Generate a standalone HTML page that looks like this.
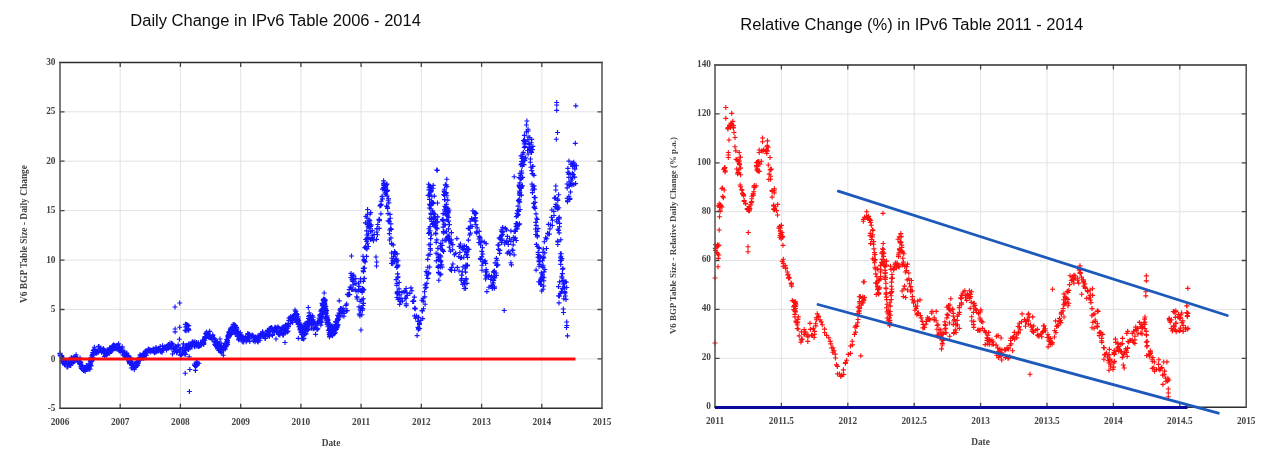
<!DOCTYPE html>
<html><head><meta charset="utf-8"><title>IPv6 Table Change</title>
<style>
html,body{margin:0;padding:0;background:#fff;}
body{width:1270px;height:462px;overflow:hidden;position:relative;}
svg{position:absolute;left:0;top:0;}
.ttl{font-family:"Liberation Sans",Arial,sans-serif;font-size:16px;fill:#0d0d0d;}
.tk{font-family:"Liberation Serif","Times New Roman",serif;font-size:9.3px;fill:#444;font-weight:bold;}
</style></head>
<body>
<svg width="1270" height="462" viewBox="0 0 1270 462">
<text class="ttl" x="130.3" y="25.9" textLength="290.6" lengthAdjust="spacingAndGlyphs">Daily Change in IPv6 Table 2006 - 2014</text>
<text class="ttl" x="740.3" y="29.7" textLength="342.8" lengthAdjust="spacingAndGlyphs">Relative Change (%) in IPv6 Table 2011 - 2014</text>
<g stroke="#e3e3e3" stroke-width="1"><line x1="120.2" y1="62.4" x2="120.2" y2="408.3"/><line x1="180.4" y1="62.4" x2="180.4" y2="408.3"/><line x1="240.7" y1="62.4" x2="240.7" y2="408.3"/><line x1="300.9" y1="62.4" x2="300.9" y2="408.3"/><line x1="361.1" y1="62.4" x2="361.1" y2="408.3"/><line x1="421.3" y1="62.4" x2="421.3" y2="408.3"/><line x1="481.6" y1="62.4" x2="481.6" y2="408.3"/><line x1="541.8" y1="62.4" x2="541.8" y2="408.3"/><line x1="60" y1="358.9" x2="602" y2="358.9"/><line x1="60" y1="309.5" x2="602" y2="309.5"/><line x1="60" y1="260.1" x2="602" y2="260.1"/><line x1="60" y1="210.6" x2="602" y2="210.6"/><line x1="60" y1="161.2" x2="602" y2="161.2"/><line x1="60" y1="111.8" x2="602" y2="111.8"/></g>
<g stroke="#e3e3e3" stroke-width="1"><line x1="781.4" y1="65" x2="781.4" y2="407.2"/><line x1="847.8" y1="65" x2="847.8" y2="407.2"/><line x1="914.2" y1="65" x2="914.2" y2="407.2"/><line x1="980.6" y1="65" x2="980.6" y2="407.2"/><line x1="1047" y1="65" x2="1047" y2="407.2"/><line x1="1113.4" y1="65" x2="1113.4" y2="407.2"/><line x1="1179.8" y1="65" x2="1179.8" y2="407.2"/><line x1="715" y1="358.3" x2="1246.2" y2="358.3"/><line x1="715" y1="309.4" x2="1246.2" y2="309.4"/><line x1="715" y1="260.5" x2="1246.2" y2="260.5"/><line x1="715" y1="211.7" x2="1246.2" y2="211.7"/><line x1="715" y1="162.8" x2="1246.2" y2="162.8"/><line x1="715" y1="113.9" x2="1246.2" y2="113.9"/></g>
<g class="tk">
<g text-anchor="middle"><text x="60" y="425">2006</text><text x="120.2" y="425">2007</text><text x="180.4" y="425">2008</text><text x="240.7" y="425">2009</text><text x="300.9" y="425">2010</text><text x="361.1" y="425">2011</text><text x="421.3" y="425">2012</text><text x="481.6" y="425">2013</text><text x="541.8" y="425">2014</text><text x="602" y="425">2015</text></g>
<g text-anchor="end"><text x="55.5" y="410.9">-5</text><text x="55.5" y="361.5">0</text><text x="55.5" y="312.1">5</text><text x="55.5" y="262.7">10</text><text x="55.5" y="213.2">15</text><text x="55.5" y="163.8">20</text><text x="55.5" y="114.4">25</text><text x="55.5" y="65">30</text></g>
<g text-anchor="middle"><text x="715" y="424">2011</text><text x="781.4" y="424">2011.5</text><text x="847.8" y="424">2012</text><text x="914.2" y="424">2012.5</text><text x="980.6" y="424">2013</text><text x="1047" y="424">2013.5</text><text x="1113.4" y="424">2014</text><text x="1179.8" y="424">2014.5</text><text x="1246.2" y="424">2015</text></g>
<g text-anchor="end"><text x="711" y="409.1">0</text><text x="711" y="360.2">20</text><text x="711" y="311.3">40</text><text x="711" y="262.4">60</text><text x="711" y="213.6">80</text><text x="711" y="164.7">100</text><text x="711" y="115.8">120</text><text x="711" y="66.9">140</text></g>
<text x="331" y="446" text-anchor="middle">Date</text>
<text x="980.5" y="444.5" text-anchor="middle">Date</text>
<text transform="translate(26.8 234) rotate(-90)" text-anchor="middle" style="font-size:9.4px" textLength="138" lengthAdjust="spacingAndGlyphs">V6 BGP Table Size - Daily Change</text>
<text transform="translate(676.3 235.6) rotate(-90)" text-anchor="middle" style="font-size:8.9px" textLength="197" lengthAdjust="spacingAndGlyphs">V6 BGP Table Size - Relative Daily Change (% p.a.)</text>
</g>
<path d="M57.7 354.2h5M60.2 351.7v5M57.6 353.3h5M60.1 350.8v5M57.4 353.5h5M59.9 351v5M57.7 355.5h5M60.2 353v5M58 356h5M60.5 353.5v5M59.2 355.5h5M61.7 353v5M59.4 357.8h5M61.9 355.3v5M58.8 355.7h5M61.3 353.2v5M59.1 355.9h5M61.6 353.4v5M59.6 360.9h5M62.1 358.4v5M59.8 360.6h5M62.3 358.1v5M59.6 357h5M62.1 354.5v5M60 361.9h5M62.5 359.4v5M60.1 361.8h5M62.6 359.3v5M60.3 363.2h5M62.8 360.7v5M61.2 362.3h5M63.7 359.8v5M61.5 363.3h5M64 360.8v5M61.5 360.2h5M64 357.7v5M60.8 360.4h5M63.3 357.9v5M61.6 363.2h5M64.1 360.7v5M62 364.4h5M64.5 361.9v5M61.9 363h5M64.4 360.5v5M62.1 364.4h5M64.6 361.9v5M62.5 364h5M65 361.5v5M62.9 363.7h5M65.4 361.2v5M63.1 361.7h5M65.6 359.2v5M62.9 360.5h5M65.4 358v5M64.1 360.3h5M66.6 357.8v5M64 361.7h5M66.5 359.2v5M64.5 367h5M67 364.5v5M65.4 364.7h5M67.9 362.2v5M65.3 366.7h5M67.8 364.2v5M66.3 364.5h5M68.8 362v5M65.8 363.3h5M68.3 360.8v5M66.5 363.7h5M69 361.2v5M66.6 363.2h5M69.1 360.7v5M67.6 364.2h5M70.1 361.7v5M67.5 365.5h5M70 363v5M68.1 365.5h5M70.6 363v5M68.3 365h5M70.8 362.5v5M67.8 362.3h5M70.3 359.8v5M68.1 363.2h5M70.6 360.7v5M68.7 359.9h5M71.2 357.4v5M68.8 357.4h5M71.3 354.9v5M68.9 358.3h5M71.4 355.8v5M69.3 362.1h5M71.8 359.6v5M69.9 358.7h5M72.4 356.2v5M70.9 357.9h5M73.4 355.4v5M70.1 359.7h5M72.6 357.2v5M70.6 357.8h5M73.1 355.3v5M70.5 361.6h5M73 359.1v5M71 362.1h5M73.5 359.6v5M71.7 359.8h5M74.2 357.3v5M72.2 361.5h5M74.7 359v5M71.8 357.2h5M74.3 354.7v5M72.8 359.3h5M75.3 356.8v5M73.1 356.4h5M75.6 353.9v5M73.4 359.3h5M75.9 356.8v5M73 358h5M75.5 355.5v5M73 356.8h5M75.5 354.3v5M73.6 354.7h5M76.1 352.2v5M74.1 358.7h5M76.6 356.2v5M75 360.7h5M77.5 358.2v5M74.4 358.3h5M76.9 355.8v5M75.1 357.9h5M77.6 355.4v5M75.3 362h5M77.8 359.5v5M75.1 360.9h5M77.6 358.4v5M76.2 361h5M78.7 358.5v5M75.7 361.4h5M78.2 358.9v5M76.8 361.4h5M79.3 358.9v5M76.6 362.2h5M79.1 359.7v5M76.5 362.2h5M79 359.7v5M77.5 358.1h5M80 355.6v5M77.6 361.9h5M80.1 359.4v5M77.2 363.1h5M79.7 360.6v5M77 361.2h5M79.5 358.7v5M77.7 363.9h5M80.2 361.4v5M78.3 364.3h5M80.8 361.8v5M77.7 364.3h5M80.2 361.8v5M78.3 362.2h5M80.8 359.7v5M77.9 362.7h5M80.4 360.2v5M78.5 366.9h5M81 364.4v5M78.6 366h5M81.1 363.5v5M78.9 368.5h5M81.4 366v5M79 367.2h5M81.5 364.7v5M79.6 365.2h5M82.1 362.7v5M79.8 366.7h5M82.3 364.2v5M80 369.3h5M82.5 366.8v5M79.8 369.5h5M82.3 367v5M80.4 369.5h5M82.9 367v5M81.1 370.5h5M83.6 368v5M81.3 370.4h5M83.8 367.9v5M81.8 369.5h5M84.3 367v5M82.2 370.1h5M84.7 367.6v5M82.7 369h5M85.2 366.5v5M82.7 371.3h5M85.2 368.8v5M83.9 369.2h5M86.4 366.7v5M83.8 366.3h5M86.3 363.8v5M83.9 365.5h5M86.4 363v5M85.3 369h5M87.8 366.5v5M85.5 366h5M88 363.5v5M86.4 366.3h5M88.9 363.8v5M85.8 366.5h5M88.3 364v5M86.5 367.9h5M89 365.4v5M86.3 365.7h5M88.8 363.2v5M86.2 366.6h5M88.7 364.1v5M86.6 369.2h5M89.1 366.7v5M86.5 366.5h5M89 364v5M86.3 367.4h5M88.8 364.9v5M87.5 369.1h5M90 366.6v5M86.6 363.8h5M89.1 361.3v5M86.8 367.3h5M89.3 364.8v5M87.8 364.9h5M90.3 362.4v5M88.1 363.7h5M90.6 361.2v5M87.2 365h5M89.7 362.5v5M87.8 361.8h5M90.3 359.3v5M88.2 361.5h5M90.7 359v5M88.6 365.8h5M91.1 363.3v5M88.2 360.7h5M90.7 358.2v5M88.9 361.7h5M91.4 359.2v5M88.6 361h5M91.1 358.5v5M88.2 359.7h5M90.7 357.2v5M88.5 359h5M91 356.5v5M88.6 360h5M91.1 357.5v5M88.8 360.6h5M91.3 358.1v5M88.5 357.7h5M91 355.2v5M88.8 361.1h5M91.3 358.6v5M88.9 359.3h5M91.4 356.8v5M89.4 360.8h5M91.9 358.3v5M89.6 360.4h5M92.1 357.9v5M89.5 359.3h5M92 356.8v5M89.9 359.6h5M92.4 357.1v5M89.4 357h5M91.9 354.5v5M90.3 354.1h5M92.8 351.6v5M89.6 355.3h5M92.1 352.8v5M90.4 357.9h5M92.9 355.4v5M90.1 354.5h5M92.6 352v5M90.4 354.9h5M92.9 352.4v5M91.1 353.4h5M93.6 350.9v5M91.2 354.3h5M93.7 351.8v5M90.2 352.5h5M92.7 350v5M91.1 352.2h5M93.6 349.7v5M90.8 350.5h5M93.3 348v5M91.6 349.6h5M94.1 347.1v5M91.8 347.2h5M94.3 344.7v5M92.4 349.1h5M94.9 346.6v5M92.9 351.7h5M95.4 349.2v5M92.8 352.4h5M95.3 349.9v5M93.5 353.2h5M96 350.7v5M94 352h5M96.5 349.5v5M94.2 353.1h5M96.7 350.6v5M94.2 352.8h5M96.7 350.3v5M95 351.2h5M97.5 348.7v5M95.6 352.4h5M98.1 349.9v5M95.2 350.8h5M97.7 348.3v5M95.9 346.6h5M98.4 344.1v5M96.5 346.4h5M99 343.9v5M97.2 349.1h5M99.7 346.6v5M97.7 348.7h5M100.2 346.2v5M97.9 350.5h5M100.4 348v5M98.6 350.8h5M101.1 348.3v5M98.4 348h5M100.9 345.5v5M99.3 351.3h5M101.8 348.8v5M99.2 352.6h5M101.7 350.1v5M100 350h5M102.5 347.5v5M99.5 350.8h5M102 348.3v5M100.7 348.6h5M103.2 346.1v5M100.2 349.8h5M102.7 347.3v5M101.3 349.2h5M103.8 346.7v5M101.2 353.2h5M103.7 350.7v5M101.8 353h5M104.3 350.5v5M101.8 351.5h5M104.3 349v5M101.9 356.4h5M104.4 353.9v5M103.5 353.5h5M106 351v5M103 353.1h5M105.5 350.6v5M103.8 355.2h5M106.3 352.7v5M104.7 350.5h5M107.2 348v5M104.6 350.1h5M107.1 347.6v5M104.7 354h5M107.2 351.5v5M104.8 354.2h5M107.3 351.7v5M105.7 349.7h5M108.2 347.2v5M105.8 350.9h5M108.3 348.4v5M105.6 350.7h5M108.1 348.2v5M105.9 352.6h5M108.4 350.1v5M107.1 353.3h5M109.6 350.8v5M106.7 349.6h5M109.2 347.1v5M106.8 353h5M109.3 350.5v5M106.7 349.8h5M109.2 347.3v5M107.1 347.8h5M109.6 345.3v5M107.3 351.9h5M109.8 349.4v5M107.6 349.5h5M110.1 347v5M108.4 351.6h5M110.9 349.1v5M108.7 349.7h5M111.2 347.2v5M107.9 349.1h5M110.4 346.6v5M108.9 349.9h5M111.4 347.4v5M108.3 349.2h5M110.8 346.7v5M109 350.4h5M111.5 347.9v5M109.5 347.1h5M112 344.6v5M109.8 350.5h5M112.3 348v5M109.9 346.7h5M112.4 344.2v5M110.1 345.7h5M112.6 343.2v5M110.5 349.1h5M113 346.6v5M111.2 348.8h5M113.7 346.3v5M111.2 344.7h5M113.7 342.2v5M111.8 345.5h5M114.3 343v5M113 345.9h5M115.5 343.4v5M112.8 348.8h5M115.3 346.3v5M113.2 347.7h5M115.7 345.2v5M114.3 345.2h5M116.8 342.7v5M114.4 345.2h5M116.9 342.7v5M114.3 348.9h5M116.8 346.4v5M115 345.5h5M117.5 343v5M115.9 349.4h5M118.4 346.9v5M116.1 343.7h5M118.6 341.2v5M116.4 350.4h5M118.9 347.9v5M117.2 346.5h5M119.7 344v5M117.6 351.5h5M120.1 349v5M117.1 348.1h5M119.6 345.6v5M118.4 350.1h5M120.9 347.6v5M118.6 350.7h5M121.1 348.2v5M118 349.2h5M120.5 346.7v5M119.4 350.8h5M121.9 348.3v5M118.7 350.1h5M121.2 347.6v5M119.6 348.2h5M122.1 345.7v5M119.7 346.8h5M122.2 344.3v5M119.6 350.8h5M122.1 348.3v5M120 351.9h5M122.5 349.4v5M120.7 351.7h5M123.2 349.2v5M120.5 354.7h5M123 352.2v5M121.4 352.1h5M123.9 349.6v5M121.5 352.5h5M124 350v5M121.5 355.3h5M124 352.8v5M121.8 355.4h5M124.3 352.9v5M122.4 352h5M124.9 349.5v5M123.2 355.3h5M125.7 352.8v5M122.8 355.6h5M125.3 353.1v5M123.9 356.8h5M126.4 354.3v5M124.2 353.1h5M126.7 350.6v5M124.2 353.7h5M126.7 351.2v5M124.3 353.6h5M126.8 351.1v5M124.2 356.5h5M126.7 354v5M125.4 355.6h5M127.9 353.1v5M124.4 353.7h5M126.9 351.2v5M125.6 356.4h5M128.1 353.9v5M125.9 358.5h5M128.4 356v5M126.1 356.7h5M128.6 354.2v5M126 359.9h5M128.5 357.4v5M125.7 357.6h5M128.2 355.1v5M125.9 355.9h5M128.4 353.4v5M125.9 358h5M128.4 355.5v5M126.4 361.5h5M128.9 359v5M126.6 361.1h5M129.1 358.6v5M126.8 357.3h5M129.3 354.8v5M126.9 362.3h5M129.4 359.8v5M127.2 363.6h5M129.7 361.1v5M126.9 362.6h5M129.4 360.1v5M128.2 357.8h5M130.7 355.3v5M128.4 360.7h5M130.9 358.2v5M128.8 361.7h5M131.3 359.2v5M128.7 363.7h5M131.2 361.2v5M128.1 362.6h5M130.6 360.1v5M129.1 365.4h5M131.6 362.9v5M128.8 368h5M131.3 365.5v5M129.9 364.8h5M132.4 362.3v5M129.5 364.7h5M132 362.2v5M129.5 365.6h5M132 363.1v5M130.5 367.6h5M133 365.1v5M130.1 367.9h5M132.6 365.4v5M130.9 365.9h5M133.4 363.4v5M131.1 365.1h5M133.6 362.6v5M130.7 365.4h5M133.2 362.9v5M132.2 367.8h5M134.7 365.3v5M131.8 369.4h5M134.3 366.9v5M132.5 363.7h5M135 361.2v5M132.6 367.5h5M135.1 365v5M133.6 365.1h5M136.1 362.6v5M134 366.1h5M136.5 363.6v5M134 362.4h5M136.5 359.9v5M134.6 364.2h5M137.1 361.7v5M134.2 361.9h5M136.7 359.4v5M134.8 361.3h5M137.3 358.8v5M135.4 362h5M137.9 359.5v5M135.4 362.7h5M137.9 360.2v5M134.7 363.2h5M137.2 360.7v5M135.7 362.1h5M138.2 359.6v5M135.2 365.4h5M137.7 362.9v5M136.2 360h5M138.7 357.5v5M135.6 362.2h5M138.1 359.7v5M135.6 363.5h5M138.1 361v5M135.6 362.8h5M138.1 360.3v5M135.9 361.6h5M138.4 359.1v5M136 360.1h5M138.5 357.6v5M136.7 359.1h5M139.2 356.6v5M136.5 357.7h5M139 355.2v5M136.8 360.4h5M139.3 357.9v5M137.4 357.3h5M139.9 354.8v5M137.5 354.8h5M140 352.3v5M137.5 357.7h5M140 355.2v5M138.2 355.2h5M140.7 352.7v5M139.1 355.5h5M141.6 353v5M138.7 355.5h5M141.2 353v5M139.8 356.1h5M142.3 353.6v5M139.8 355.9h5M142.3 353.4v5M140.3 354.4h5M142.8 351.9v5M140.1 356.2h5M142.6 353.7v5M140.1 358.1h5M142.6 355.6v5M141 353.5h5M143.5 351v5M141.3 358.2h5M143.8 355.7v5M141.1 354h5M143.6 351.5v5M142.4 352.9h5M144.9 350.4v5M142.6 351.5h5M145.1 349v5M142.1 355.3h5M144.6 352.8v5M142.9 355.1h5M145.4 352.6v5M143.2 350.9h5M145.7 348.4v5M144 355.2h5M146.5 352.7v5M143.7 351.7h5M146.2 349.2v5M144.8 352.8h5M147.3 350.3v5M144.6 351.5h5M147.1 349v5M144.6 352.8h5M147.1 350.3v5M145.9 350.9h5M148.4 348.4v5M146.1 349.4h5M148.6 346.9v5M145.8 348.9h5M148.3 346.4v5M146.8 351.3h5M149.3 348.8v5M147.2 349.8h5M149.7 347.3v5M147.4 350.4h5M149.9 347.9v5M148 350.3h5M150.5 347.8v5M148.6 350.7h5M151.1 348.2v5M148.3 352.1h5M150.8 349.6v5M148.7 350.5h5M151.2 348v5M149.5 350.2h5M152 347.7v5M150.2 350.9h5M152.7 348.4v5M150.7 349h5M153.2 346.5v5M150.8 351.3h5M153.3 348.8v5M150.8 350.6h5M153.3 348.1v5M151.9 352.8h5M154.4 350.3v5M152.7 352.2h5M155.2 349.7v5M153 350.2h5M155.5 347.7v5M153.4 348.2h5M155.9 345.7v5M153.6 347.4h5M156.1 344.9v5M153.5 347.8h5M156 345.3v5M154.2 351h5M156.7 348.5v5M154.3 351.7h5M156.8 349.2v5M154.5 349.9h5M157 347.4v5M156 348.3h5M158.5 345.8v5M155.5 350.4h5M158 347.9v5M156.3 351.1h5M158.8 348.6v5M157.1 349.3h5M159.6 346.8v5M157.6 348.6h5M160.1 346.1v5M157.7 346.5h5M160.2 344v5M157.7 348.3h5M160.2 345.8v5M158.2 351.7h5M160.7 349.2v5M158.4 351.3h5M160.9 348.8v5M159.6 352.2h5M162.1 349.7v5M160.2 349.2h5M162.7 346.7v5M159.8 350.4h5M162.3 347.9v5M160 345.7h5M162.5 343.2v5M160.9 349.2h5M163.4 346.7v5M160.9 350h5M163.4 347.5v5M161.1 348.9h5M163.6 346.4v5M161.9 346.9h5M164.4 344.4v5M162.6 346.9h5M165.1 344.4v5M162.9 347.2h5M165.4 344.7v5M163 347h5M165.5 344.5v5M163.9 346.2h5M166.4 343.7v5M164 350.1h5M166.5 347.6v5M164.7 346.2h5M167.2 343.7v5M165.1 347.6h5M167.6 345.1v5M165.7 346.7h5M168.2 344.2v5M165.3 345.6h5M167.8 343.1v5M165.9 346.9h5M168.4 344.4v5M166 344.6h5M168.5 342.1v5M166.5 347.1h5M169 344.6v5M167.3 345.3h5M169.8 342.8v5M167.3 347.4h5M169.8 344.9v5M167.5 345.4h5M170 342.9v5M168.7 348.1h5M171.2 345.6v5M169.1 343.2h5M171.6 340.7v5M169.1 345.4h5M171.6 342.9v5M169.2 343.8h5M171.7 341.3v5M170.2 343.9h5M172.7 341.4v5M170.6 347.9h5M173.1 345.4v5M170.6 346h5M173.1 343.5v5M170.8 349.2h5M173.3 346.7v5M171.1 348.6h5M173.6 346.1v5M171.5 351.4h5M174 348.9v5M172.7 346.6h5M175.2 344.1v5M173 350h5M175.5 347.5v5M173.4 347.8h5M175.9 345.3v5M173.5 350.1h5M176 347.6v5M174.1 352.7h5M176.6 350.2v5M174.1 351.1h5M176.6 348.6v5M174.3 351.3h5M176.8 348.8v5M174.5 347.6h5M177 345.1v5M174.8 351.7h5M177.3 349.2v5M175.6 346h5M178.1 343.5v5M175.7 344.9h5M178.2 342.4v5M176.9 350h5M179.4 347.5v5M177.2 351.9h5M179.7 349.4v5M177.9 349.6h5M180.4 347.1v5M178.3 355.4h5M180.8 352.9v5M177.8 354.9h5M180.3 352.4v5M178.2 349.4h5M180.7 346.9v5M179.3 354.3h5M181.8 351.8v5M179.3 353.7h5M181.8 351.2v5M180.3 347.2h5M182.8 344.7v5M180.3 348.7h5M182.8 346.2v5M180.4 347.3h5M182.9 344.8v5M180.8 352h5M183.3 349.5v5M181.8 353.9h5M184.3 351.4v5M181.6 352.4h5M184.1 349.9v5M181.9 350.9h5M184.4 348.4v5M182.1 352.6h5M184.6 350.1v5M183.2 354.3h5M185.7 351.8v5M182.8 346.7h5M185.3 344.2v5M182.9 350.7h5M185.4 348.2v5M184.2 348h5M186.7 345.5v5M184 345.2h5M186.5 342.7v5M185.1 349.1h5M187.6 346.6v5M185.3 345.4h5M187.8 342.9v5M185.6 347.1h5M188.1 344.6v5M186.1 344.7h5M188.6 342.2v5M186.1 349.6h5M188.6 347.1v5M187.1 346.9h5M189.6 344.4v5M186.5 344.5h5M189 342v5M188 344.7h5M190.5 342.2v5M188.3 346h5M190.8 343.5v5M188.1 343.7h5M190.6 341.2v5M188.6 346.8h5M191.1 344.3v5M188.3 343.8h5M190.8 341.3v5M189.3 346.9h5M191.8 344.4v5M189.6 342.3h5M192.1 339.8v5M189.6 344.9h5M192.1 342.4v5M189.5 346.9h5M192 344.4v5M190.6 342.9h5M193.1 340.4v5M190.2 341.7h5M192.7 339.2v5M190.4 342.5h5M192.9 340v5M191.8 342.7h5M194.3 340.2v5M192.1 346.4h5M194.6 343.9v5M192.5 341.8h5M195 339.3v5M192.3 346.7h5M194.8 344.2v5M192.3 343.1h5M194.8 340.6v5M192.5 343.4h5M195 340.9v5M193.7 344.7h5M196.2 342.2v5M193.8 345.2h5M196.3 342.7v5M194.1 342.6h5M196.6 340.1v5M194.6 346.2h5M197.1 343.7v5M194.9 344.9h5M197.4 342.4v5M195.9 342.7h5M198.4 340.2v5M196.2 346.6h5M198.7 344.1v5M196.1 346h5M198.6 343.5v5M196 343.8h5M198.5 341.3v5M197.1 344.7h5M199.6 342.2v5M197.1 346.1h5M199.6 343.6v5M197.4 344.7h5M199.9 342.2v5M197.5 345.7h5M200 343.2v5M198 345h5M200.5 342.5v5M198 343.2h5M200.5 340.7v5M199.2 342.9h5M201.7 340.4v5M198.7 345.2h5M201.2 342.7v5M199.7 342.5h5M202.2 340v5M200.1 341.9h5M202.6 339.4v5M200.4 341.9h5M202.9 339.4v5M200 340h5M202.5 337.5v5M201 343.7h5M203.5 341.2v5M200.3 340.7h5M202.8 338.2v5M200.8 341.2h5M203.3 338.7v5M200.9 341.6h5M203.4 339.1v5M201.6 340.3h5M204.1 337.8v5M201.2 344.4h5M203.7 341.9v5M201.4 342.9h5M203.9 340.4v5M202.4 337.7h5M204.9 335.2v5M202.3 340.2h5M204.8 337.7v5M202.3 336.7h5M204.8 334.2v5M203.2 338.5h5M205.7 336v5M203.1 336.5h5M205.6 334v5M203.2 333.6h5M205.7 331.1v5M203.5 337.9h5M206 335.4v5M203.5 333.8h5M206 331.3v5M203.9 332.1h5M206.4 329.6v5M204.4 333.7h5M206.9 331.2v5M204.9 335h5M207.4 332.5v5M205.4 334.6h5M207.9 332.1v5M206 333h5M208.5 330.5v5M206.4 337.5h5M208.9 335v5M205.9 336.3h5M208.4 333.8v5M206.7 337.3h5M209.2 334.8v5M207.2 331.3h5M209.7 328.8v5M207.4 336.1h5M209.9 333.6v5M207.8 337.4h5M210.3 334.9v5M208.9 337.9h5M211.4 335.4v5M209.2 337.1h5M211.7 334.6v5M209.5 338.7h5M212 336.2v5M209.5 337.1h5M212 334.6v5M209.7 339.7h5M212.2 337.2v5M210.3 335.7h5M212.8 333.2v5M210.2 334.7h5M212.7 332.2v5M211 337.8h5M213.5 335.3v5M211.8 341.8h5M214.3 339.3v5M211.9 338.4h5M214.4 335.9v5M211.8 341.4h5M214.3 338.9v5M212.2 344.2h5M214.7 341.7v5M212.3 341.4h5M214.8 338.9v5M212.1 341.8h5M214.6 339.3v5M212.5 344.2h5M215 341.7v5M212.9 345.3h5M215.4 342.8v5M213.2 342.6h5M215.7 340.1v5M213 341.3h5M215.5 338.8v5M213 344.3h5M215.5 341.8v5M213.7 342.3h5M216.2 339.8v5M213.3 341.8h5M215.8 339.3v5M213.6 343.5h5M216.1 341v5M214.1 346.9h5M216.6 344.4v5M213.7 342.9h5M216.2 340.4v5M214.4 344.9h5M216.9 342.4v5M214.7 341.6h5M217.2 339.1v5M214.1 345.4h5M216.6 342.9v5M215 342.1h5M217.5 339.6v5M215 346.4h5M217.5 343.9v5M215 348.8h5M217.5 346.3v5M215.1 347.4h5M217.6 344.9v5M215.6 348.2h5M218.1 345.7v5M215.2 347.1h5M217.7 344.6v5M216.4 344.5h5M218.9 342v5M216.2 350.5h5M218.7 348v5M216.8 349.9h5M219.3 347.4v5M217 346h5M219.5 343.5v5M217.6 346.3h5M220.1 343.8v5M217.9 351.7h5M220.4 349.2v5M218.5 343h5M221 340.5v5M218.4 348.6h5M220.9 346.1v5M219 345.7h5M221.5 343.2v5M219.2 352.8h5M221.7 350.3v5M219.7 349.4h5M222.2 346.9v5M219.2 348.7h5M221.7 346.2v5M219.6 347.5h5M222.1 345v5M220.8 355.2h5M223.3 352.7v5M221 346.5h5M223.5 344v5M220.6 347.9h5M223.1 345.4v5M221.6 345.8h5M224.1 343.3v5M221.1 350.2h5M223.6 347.7v5M221.9 347.8h5M224.4 345.3v5M222.8 349.1h5M225.3 346.6v5M221.9 348h5M224.4 345.5v5M222.1 346.4h5M224.6 343.9v5M222.4 343.8h5M224.9 341.3v5M222.4 347.2h5M224.9 344.7v5M223 343.6h5M225.5 341.1v5M223.5 345.4h5M226 342.9v5M223.4 343.2h5M225.9 340.7v5M223.8 343.3h5M226.3 340.8v5M223.6 346.6h5M226.1 344.1v5M224.3 341.4h5M226.8 338.9v5M223.6 344.6h5M226.1 342.1v5M224.3 343.7h5M226.8 341.2v5M224 343.4h5M226.5 340.9v5M224.4 344.9h5M226.9 342.4v5M224.7 342.7h5M227.2 340.2v5M224.2 339.5h5M226.7 337v5M225 340.6h5M227.5 338.1v5M225.1 344.5h5M227.6 342v5M225 342.2h5M227.5 339.7v5M225.4 338.1h5M227.9 335.6v5M225 340.2h5M227.5 337.7v5M225.6 335.6h5M228.1 333.1v5M225.9 335.8h5M228.4 333.3v5M225.7 335.4h5M228.2 332.9v5M225.4 336.3h5M227.9 333.8v5M225.8 337.6h5M228.3 335.1v5M226.3 332.6h5M228.8 330.1v5M226.7 333h5M229.2 330.5v5M226.3 336.8h5M228.8 334.3v5M226.2 334.5h5M228.7 332v5M226.6 331.5h5M229.1 329v5M227 333.8h5M229.5 331.3v5M227.7 329.8h5M230.2 327.3v5M227.5 331.9h5M230 329.4v5M227.6 335h5M230.1 332.5v5M227.1 331.9h5M229.6 329.4v5M228.3 329.8h5M230.8 327.3v5M227.8 332.6h5M230.3 330.1v5M228.8 334.3h5M231.3 331.8v5M229 333.9h5M231.5 331.4v5M228.3 329.3h5M230.8 326.8v5M228.3 328.1h5M230.8 325.6v5M229 331.2h5M231.5 328.7v5M228.7 333.2h5M231.2 330.7v5M229 330.3h5M231.5 327.8v5M229.7 332.1h5M232.2 329.6v5M230 329.4h5M232.5 326.9v5M229.6 327.2h5M232.1 324.7v5M230.1 330.7h5M232.6 328.2v5M230.7 324.4h5M233.2 321.9v5M231.7 330.2h5M234.2 327.7v5M231.9 324.8h5M234.4 322.3v5M231.6 328.8h5M234.1 326.3v5M233 325.6h5M235.5 323.1v5M232.8 329.5h5M235.3 327v5M232.6 331.3h5M235.1 328.8v5M233 327.5h5M235.5 325v5M232.8 327.4h5M235.3 324.9v5M233.6 331.7h5M236.1 329.2v5M234.1 327.3h5M236.6 324.8v5M234.2 328.9h5M236.7 326.4v5M233.8 333.8h5M236.3 331.3v5M234.5 329h5M237 326.5v5M234 333h5M236.5 330.5v5M234.6 334.7h5M237.1 332.2v5M234.1 330.6h5M236.6 328.1v5M234.3 334.8h5M236.8 332.3v5M234.8 336.3h5M237.3 333.8v5M235.5 331.9h5M238 329.4v5M235.3 333.4h5M237.8 330.9v5M235 333.6h5M237.5 331.1v5M236.1 339.8h5M238.6 337.3v5M235.8 336.3h5M238.3 333.8v5M235.8 333.7h5M238.3 331.2v5M237 334h5M239.5 331.5v5M236.5 339h5M239 336.5v5M237.3 338.7h5M239.8 336.2v5M236.8 333.6h5M239.3 331.1v5M237.2 337.4h5M239.7 334.9v5M238 332.7h5M240.5 330.2v5M238.8 334.7h5M241.3 332.2v5M238.2 335.7h5M240.7 333.2v5M239.2 336.2h5M241.7 333.7v5M238.7 336h5M241.2 333.5v5M239.3 340.1h5M241.8 337.6v5M240.1 337.7h5M242.6 335.2v5M239.8 341.7h5M242.3 339.2v5M240.4 336.8h5M242.9 334.3v5M241.2 341.9h5M243.7 339.4v5M241.6 338.3h5M244.1 335.8v5M242.1 339.4h5M244.6 336.9v5M241.7 339.6h5M244.2 337.1v5M242.2 338.1h5M244.7 335.6v5M242.8 338.3h5M245.3 335.8v5M243 337.4h5M245.5 334.9v5M243.7 340.5h5M246.2 338v5M243.7 341.8h5M246.2 339.3v5M244.6 339.9h5M247.1 337.4v5M245.2 334.1h5M247.7 331.6v5M245.1 336.1h5M247.6 333.6v5M246 336h5M248.5 333.5v5M245.3 333.5h5M247.8 331v5M245.7 334.4h5M248.2 331.9v5M246.3 334.2h5M248.8 331.7v5M247.1 334.6h5M249.6 332.1v5M247 338.8h5M249.5 336.3v5M247.3 341.4h5M249.8 338.9v5M248.3 335.8h5M250.8 333.3v5M248.6 336.5h5M251.1 334v5M249.6 335.2h5M252.1 332.7v5M249.8 335.1h5M252.3 332.6v5M250.5 335.4h5M253 332.9v5M250.8 337.4h5M253.3 334.9v5M251.3 338.8h5M253.8 336.3v5M250.9 340.7h5M253.4 338.2v5M252.2 337.4h5M254.7 334.9v5M252.4 340.5h5M254.9 338v5M252.5 341.7h5M255 339.2v5M252.6 341h5M255.1 338.5v5M253.1 337.1h5M255.6 334.6v5M253.6 338.1h5M256.1 335.6v5M253.7 338.1h5M256.2 335.6v5M255.1 341.5h5M257.6 339v5M255.4 339.1h5M257.9 336.6v5M255.6 342.1h5M258.1 339.6v5M255.5 336h5M258 333.5v5M256.4 337.6h5M258.9 335.1v5M256.6 335.3h5M259.1 332.8v5M256.8 340.2h5M259.3 337.7v5M257.6 338.1h5M260.1 335.6v5M257.6 340.2h5M260.1 337.7v5M257.9 336.4h5M260.4 333.9v5M258.5 333.4h5M261 330.9v5M258.8 334.7h5M261.3 332.2v5M260 331.8h5M262.5 329.3v5M260.1 335.1h5M262.6 332.6v5M260.3 332.2h5M262.8 329.7v5M260.8 335.3h5M263.3 332.8v5M260.9 334.4h5M263.4 331.9v5M261.7 336.7h5M264.2 334.2v5M262.4 333.7h5M264.9 331.2v5M262.3 335.6h5M264.8 333.1v5M262.5 335.7h5M265 333.2v5M262.6 338.5h5M265.1 336v5M263 338.2h5M265.5 335.7v5M264.2 333.4h5M266.7 330.9v5M264.8 330.3h5M267.3 327.8v5M264.5 334.7h5M267 332.2v5M265.2 331.6h5M267.7 329.1v5M265.4 335.7h5M267.9 333.2v5M266.1 335.1h5M268.6 332.6v5M266.4 333h5M268.9 330.5v5M266.9 336.2h5M269.4 333.7v5M266.8 328.4h5M269.3 325.9v5M267.1 331.6h5M269.6 329.1v5M267.8 330.1h5M270.3 327.6v5M267.6 330.8h5M270.1 328.3v5M267.7 329h5M270.2 326.5v5M268.2 328.1h5M270.7 325.6v5M269 327.5h5M271.5 325v5M268.5 329.1h5M271 326.6v5M269.3 328h5M271.8 325.5v5M270.1 331h5M272.6 328.5v5M270.3 329.1h5M272.8 326.6v5M270.1 334.3h5M272.6 331.8v5M269.9 335.5h5M272.4 333v5M271.3 330.8h5M273.8 328.3v5M271.8 332.1h5M274.3 329.6v5M271.9 329.5h5M274.4 327v5M272.2 327.9h5M274.7 325.4v5M272.7 327.3h5M275.2 324.8v5M272.7 328.7h5M275.2 326.2v5M273.4 327.7h5M275.9 325.2v5M273.7 331.8h5M276.2 329.3v5M274.7 328.5h5M277.2 326v5M274.9 328h5M277.4 325.5v5M275.5 326.8h5M278 324.3v5M274.9 332.2h5M277.4 329.7v5M276.2 333.1h5M278.7 330.6v5M276.1 334.4h5M278.6 331.9v5M276.6 328.3h5M279.1 325.8v5M276.7 331.4h5M279.2 328.9v5M277.3 332.5h5M279.8 330v5M277.3 335.1h5M279.8 332.6v5M278.1 330h5M280.6 327.5v5M278.5 332.4h5M281 329.9v5M279.3 332.5h5M281.8 330v5M279.6 327.4h5M282.1 324.9v5M280 328.4h5M282.5 325.9v5M280.3 335h5M282.8 332.5v5M281.1 328.8h5M283.6 326.3v5M280.7 327h5M283.2 324.5v5M281.5 331.7h5M284 329.2v5M281 334.9h5M283.5 332.4v5M282.1 332.9h5M284.6 330.4v5M281.8 329h5M284.3 326.5v5M282.5 326.4h5M285 323.9v5M282.5 327.8h5M285 325.3v5M283 324.9h5M285.5 322.4v5M283.3 331.8h5M285.8 329.3v5M283.9 325h5M286.4 322.5v5M284.2 330.8h5M286.7 328.3v5M284.1 330.7h5M286.6 328.2v5M284.8 332h5M287.3 329.5v5M284.7 326.5h5M287.2 324v5M285.2 326.4h5M287.7 323.9v5M284.7 328.4h5M287.2 325.9v5M284.9 325.5h5M287.4 323v5M285.6 331.2h5M288.1 328.7v5M285.7 323.4h5M288.2 320.9v5M285.6 324.2h5M288.1 321.7v5M286 326.6h5M288.5 324.1v5M286.3 320.3h5M288.8 317.8v5M286.7 317.9h5M289.2 315.4v5M286.6 317.9h5M289.1 315.4v5M286.9 318h5M289.4 315.5v5M288 319h5M290.5 316.5v5M288.2 316.6h5M290.7 314.1v5M287.8 318.5h5M290.3 316v5M288.1 323.3h5M290.6 320.8v5M288.9 319.7h5M291.4 317.2v5M289.1 318.5h5M291.6 316v5M289.4 319.6h5M291.9 317.1v5M289 318.5h5M291.5 316v5M289.5 320.8h5M292 318.3v5M290.2 322.5h5M292.7 320v5M290.1 320.5h5M292.6 318v5M291 316.2h5M293.5 313.7v5M290.3 317.5h5M292.8 315v5M291.1 319h5M293.6 316.5v5M291.1 315.6h5M293.6 313.1v5M291.9 315.6h5M294.4 313.1v5M292.4 315.8h5M294.9 313.3v5M292.6 319.5h5M295.1 317v5M291.9 314.3h5M294.4 311.8v5M292.6 318.4h5M295.1 315.9v5M293.3 315.9h5M295.8 313.4v5M293.1 314.1h5M295.6 311.6v5M293 317.5h5M295.5 315v5M293.8 320.1h5M296.3 317.6v5M293.3 311.4h5M295.8 308.9v5M293.7 314.8h5M296.2 312.3v5M294.1 313.6h5M296.6 311.1v5M294.1 315h5M296.6 312.5v5M294.1 319.7h5M296.6 317.2v5M293.7 319.6h5M296.2 317.1v5M294.2 321.1h5M296.7 318.6v5M294.7 314.5h5M297.2 312v5M294.2 314.8h5M296.7 312.3v5M295.3 321.5h5M297.8 319v5M295.2 322.5h5M297.7 320v5M295.4 318.6h5M297.9 316.1v5M295.7 316.9h5M298.2 314.4v5M295.5 319.5h5M298 317v5M295.6 322.8h5M298.1 320.3v5M295.8 320.4h5M298.3 317.9v5M296.2 320.8h5M298.7 318.3v5M295.3 318.5h5M297.8 316v5M295.6 324.3h5M298.1 321.8v5M296.2 323.4h5M298.7 320.9v5M295.7 323.9h5M298.2 321.4v5M296 322.7h5M298.5 320.2v5M296.7 322.8h5M299.2 320.3v5M296.3 326.7h5M298.8 324.2v5M297.3 325.7h5M299.8 323.2v5M297.3 324.7h5M299.8 322.2v5M296.8 323.2h5M299.3 320.7v5M297.5 330h5M300 327.5v5M297.4 324.4h5M299.9 321.9v5M297.8 327.6h5M300.3 325.1v5M297.4 324.8h5M299.9 322.3v5M297.4 324.7h5M299.9 322.2v5M297.8 326.5h5M300.3 324v5M297.9 326.1h5M300.4 323.6v5M297.6 328.9h5M300.1 326.4v5M298.5 326.1h5M301 323.6v5M299 327.3h5M301.5 324.8v5M298.5 332.5h5M301 330v5M298.7 331.5h5M301.2 329v5M299 328.1h5M301.5 325.6v5M299.1 334.4h5M301.6 331.9v5M298.6 331.4h5M301.1 328.9v5M299.6 329.9h5M302.1 327.4v5M299.6 332.9h5M302.1 330.4v5M299.3 338.6h5M301.8 336.1v5M300.2 338.4h5M302.7 335.9v5M300.5 334.4h5M303 331.9v5M300.4 334.5h5M302.9 332v5M300.3 335h5M302.8 332.5v5M301 331.9h5M303.5 329.4v5M301.4 338.4h5M303.9 335.9v5M301.1 338.9h5M303.6 336.4v5M301.3 330.6h5M303.8 328.1v5M300.9 329h5M303.4 326.5v5M301 331.8h5M303.5 329.3v5M301.2 327h5M303.7 324.5v5M302.1 334.4h5M304.6 331.9v5M301.8 334h5M304.3 331.5v5M302 327.4h5M304.5 324.9v5M302 328.4h5M304.5 325.9v5M302.7 330.6h5M305.2 328.1v5M302.3 324.8h5M304.8 322.3v5M302.1 328.9h5M304.6 326.4v5M302.6 323.4h5M305.1 320.9v5M303.2 333.4h5M305.7 330.9v5M303 333.5h5M305.5 331v5M303.2 333.5h5M305.7 331v5M303.3 329.5h5M305.8 327v5M303.5 333.8h5M306 331.3v5M303.9 326.2h5M306.4 323.7v5M303.8 323.1h5M306.3 320.6v5M303.9 328h5M306.4 325.5v5M303.7 327.5h5M306.2 325v5M303.9 329.4h5M306.4 326.9v5M304.6 324.4h5M307.1 321.9v5M304.7 329.7h5M307.2 327.2v5M304.4 324.1h5M306.9 321.6v5M304.6 325.2h5M307.1 322.7v5M304.2 324.4h5M306.7 321.9v5M304.3 327.3h5M306.8 324.8v5M304.9 324.8h5M307.4 322.3v5M305.3 330.1h5M307.8 327.6v5M305.8 329.6h5M308.3 327.1v5M305.7 328.1h5M308.2 325.6v5M306 322h5M308.5 319.5v5M305.2 323.2h5M307.7 320.7v5M305.4 326.5h5M307.9 324v5M306 318.4h5M308.5 315.9v5M306.3 316.5h5M308.8 314v5M306.3 318.3h5M308.8 315.8v5M306.8 323.1h5M309.3 320.6v5M306.7 322.5h5M309.2 320v5M306.8 315.6h5M309.3 313.1v5M306.5 321h5M309 318.5v5M307.2 320.4h5M309.7 317.9v5M306.7 312.8h5M309.2 310.3v5M306.9 319.5h5M309.4 317v5M307.3 324.8h5M309.8 322.3v5M308.3 316.6h5M310.8 314.1v5M307.5 322.2h5M310 319.7v5M308 316.3h5M310.5 313.8v5M308.8 321.6h5M311.3 319.1v5M309.3 319.4h5M311.8 316.9v5M309.4 321h5M311.9 318.5v5M309.1 328.2h5M311.6 325.7v5M310 315.7h5M312.5 313.2v5M309.4 325.1h5M311.9 322.6v5M309.9 323.6h5M312.4 321.1v5M310.7 319.8h5M313.2 317.3v5M310.7 319.7h5M313.2 317.2v5M310.6 317.2h5M313.1 314.7v5M310.7 328.7h5M313.2 326.2v5M311.5 321.7h5M314 319.2v5M311.6 328.3h5M314.1 325.8v5M311.9 322.9h5M314.4 320.4v5M313 324.1h5M315.5 321.6v5M312.9 324.9h5M315.4 322.4v5M313 327.7h5M315.5 325.2v5M313.3 327.3h5M315.8 324.8v5M313.1 334.3h5M315.6 331.8v5M314.4 328.2h5M316.9 325.7v5M314.5 329.6h5M317 327.1v5M315.1 323.6h5M317.6 321.1v5M315.3 328.9h5M317.8 326.4v5M315.7 321.4h5M318.2 318.9v5M315.6 323.2h5M318.1 320.7v5M315.6 323.2h5M318.1 320.7v5M317 320.1h5M319.5 317.6v5M316.5 321.3h5M319 318.8v5M316.7 318.1h5M319.2 315.6v5M317.4 315.3h5M319.9 312.8v5M317.3 320.2h5M319.8 317.7v5M317.4 314.7h5M319.9 312.2v5M317.8 318h5M320.3 315.5v5M318.3 325.1h5M320.8 322.6v5M317.5 321.1h5M320 318.6v5M317.7 320.3h5M320.2 317.8v5M318.4 322.3h5M320.9 319.8v5M318.5 314h5M321 311.5v5M317.6 316.1h5M320.1 313.6v5M318.4 314.6h5M320.9 312.1v5M317.9 315h5M320.4 312.5v5M318.5 319h5M321 316.5v5M319 314.3h5M321.5 311.8v5M318.8 319h5M321.3 316.5v5M318.1 321.2h5M320.6 318.7v5M319.1 313.5h5M321.6 311v5M318.3 318.1h5M320.8 315.6v5M318.9 314.5h5M321.4 312v5M318.6 315h5M321.1 312.5v5M318.3 311.1h5M320.8 308.6v5M319 316.8h5M321.5 314.3v5M319 316.2h5M321.5 313.7v5M319.2 309.8h5M321.7 307.3v5M319.3 322h5M321.8 319.5v5M318.7 316.4h5M321.2 313.9v5M319.6 310.4h5M322.1 307.9v5M319.3 309.4h5M321.8 306.9v5M319.5 313.5h5M322 311v5M319.3 314.2h5M321.8 311.7v5M319.8 314.6h5M322.3 312.1v5M319.4 314.4h5M321.9 311.9v5M319.7 314h5M322.2 311.5v5M320.3 308.9h5M322.8 306.4v5M319.8 305.3h5M322.3 302.8v5M319.8 311.5h5M322.3 309v5M320.3 314.1h5M322.8 311.6v5M319.6 303.4h5M322.1 300.9v5M320.2 304.5h5M322.7 302v5M320.1 305.1h5M322.6 302.6v5M320.6 304.3h5M323.1 301.8v5M319.9 311h5M322.4 308.5v5M321.1 309.1h5M323.6 306.6v5M320.4 306h5M322.9 303.5v5M320.5 308.3h5M323 305.8v5M321 310.6h5M323.5 308.1v5M320.7 300.4h5M323.2 297.9v5M321 309h5M323.5 306.5v5M321.6 302.6h5M324.1 300.1v5M320.8 304.1h5M323.3 301.6v5M320.9 300.2h5M323.4 297.7v5M321.4 299.2h5M323.9 296.7v5M321 299.6h5M323.5 297.1v5M321.9 301.7h5M324.4 299.2v5M321.8 304.1h5M324.3 301.6v5M321.4 303.2h5M323.9 300.7v5M321.3 299.7h5M323.8 297.2v5M321.7 301.9h5M324.2 299.4v5M321.5 301.4h5M324 298.9v5M322.2 304.7h5M324.7 302.2v5M322.4 305h5M324.9 302.5v5M321.4 306.7h5M323.9 304.2v5M321.5 298.9h5M324 296.4v5M322.4 306.8h5M324.9 304.3v5M322.4 299.7h5M324.9 297.2v5M322.7 300.1h5M325.2 297.6v5M322.9 306.4h5M325.4 303.9v5M322.7 300.5h5M325.2 298v5M322.4 308h5M324.9 305.5v5M322 303.3h5M324.5 300.8v5M322.3 301.8h5M324.8 299.3v5M322.6 310.3h5M325.1 307.8v5M322.2 303.9h5M324.7 301.4v5M323 309.4h5M325.5 306.9v5M322.6 308.2h5M325.1 305.7v5M322.6 308.6h5M325.1 306.1v5M323.3 306.4h5M325.8 303.9v5M322.5 311.6h5M325 309.1v5M322.4 306.6h5M324.9 304.1v5M323.1 310.4h5M325.6 307.9v5M323.3 308.9h5M325.8 306.4v5M323.2 312.6h5M325.7 310.1v5M323.7 313.3h5M326.2 310.8v5M323.1 314h5M325.6 311.5v5M323.2 311.6h5M325.7 309.1v5M323 311.7h5M325.5 309.2v5M323.6 320.1h5M326.1 317.6v5M323.6 317.4h5M326.1 314.9v5M323.2 312.7h5M325.7 310.2v5M324 310.6h5M326.5 308.1v5M323.9 320.2h5M326.4 317.7v5M323.8 313.2h5M326.3 310.7v5M323.2 313.5h5M325.7 311v5M323.9 317.8h5M326.4 315.3v5M323.6 316.7h5M326.1 314.2v5M323.8 317.4h5M326.3 314.9v5M324.1 318.5h5M326.6 316v5M323.9 317.9h5M326.4 315.4v5M323.8 318.3h5M326.3 315.8v5M324.7 318.5h5M327.2 316v5M324.3 317.4h5M326.8 314.9v5M324 317.7h5M326.5 315.2v5M324.5 322.2h5M327 319.7v5M324.3 318.7h5M326.8 316.2v5M324.7 315.7h5M327.2 313.2v5M325.3 320.4h5M327.8 317.9v5M324.8 324.6h5M327.3 322.1v5M324.6 323h5M327.1 320.5v5M324.7 317.2h5M327.2 314.7v5M325.3 319.6h5M327.8 317.1v5M325.2 320.8h5M327.7 318.3v5M325.4 326.7h5M327.9 324.2v5M325.9 322.5h5M328.4 320v5M325.5 320.1h5M328 317.6v5M325.6 324.2h5M328.1 321.7v5M325.3 323.2h5M327.8 320.7v5M325.4 322.7h5M327.9 320.2v5M325.8 323.2h5M328.3 320.7v5M326.6 325.4h5M329.1 322.9v5M326.7 324h5M329.2 321.5v5M326.7 325.7h5M329.2 323.2v5M325.9 330.3h5M328.4 327.8v5M326.9 329.4h5M329.4 326.9v5M326.9 328.7h5M329.4 326.2v5M326.7 334.2h5M329.2 331.7v5M326.6 332.7h5M329.1 330.2v5M327 336.9h5M329.5 334.4v5M326.8 334.4h5M329.3 331.9v5M327.5 335.6h5M330 333.1v5M327.9 333.3h5M330.4 330.8v5M327.7 329h5M330.2 326.5v5M327.8 333.1h5M330.3 330.6v5M328 333.1h5M330.5 330.6v5M328.6 333.1h5M331.1 330.6v5M328.2 334.5h5M330.7 332v5M328.5 328.5h5M331 326v5M328.2 335.1h5M330.7 332.6v5M329.1 328.5h5M331.6 326v5M329.2 326.7h5M331.7 324.2v5M329.3 333.1h5M331.8 330.6v5M328.7 334.2h5M331.2 331.7v5M329.5 333.3h5M332 330.8v5M330 335.7h5M332.5 333.2v5M329.8 327.4h5M332.3 324.9v5M329.7 325.9h5M332.2 323.4v5M329.9 328.2h5M332.4 325.7v5M330.4 333.8h5M332.9 331.3v5M330.3 329.5h5M332.8 327v5M331.2 334.1h5M333.7 331.6v5M330.4 328.6h5M332.9 326.1v5M331.1 331.2h5M333.6 328.7v5M331.2 330.8h5M333.7 328.3v5M332 333.5h5M334.5 331v5M331.5 331.3h5M334 328.8v5M332 330.5h5M334.5 328v5M332.5 328.2h5M335 325.7v5M332.7 327.5h5M335.2 325v5M333 329.8h5M335.5 327.3v5M332.1 328h5M334.6 325.5v5M332.2 327.5h5M334.7 325v5M333 332.7h5M335.5 330.2v5M333 324.3h5M335.5 321.8v5M333.3 329.6h5M335.8 327.1v5M332.9 328.1h5M335.4 325.6v5M333.8 329.3h5M336.3 326.8v5M333 321.7h5M335.5 319.2v5M333.5 328.1h5M336 325.6v5M334.2 326.7h5M336.7 324.2v5M333.3 326.6h5M335.8 324.1v5M334.3 327.4h5M336.8 324.9v5M334.1 322.5h5M336.6 320v5M333.7 322.5h5M336.2 320v5M334.7 327.7h5M337.2 325.2v5M335 320.4h5M337.5 317.9v5M334.4 321.8h5M336.9 319.3v5M334.7 324.3h5M337.2 321.8v5M335 318.9h5M337.5 316.4v5M334.4 321.6h5M336.9 319.1v5M335.5 324.9h5M338 322.4v5M335.1 326h5M337.6 323.5v5M335.5 319h5M338 316.5v5M334.8 320.3h5M337.3 317.8v5M335.6 319.6h5M338.1 317.1v5M335.1 319.7h5M337.6 317.2v5M336.1 316.4h5M338.6 313.9v5M335.2 315.3h5M337.7 312.8v5M335.9 317.7h5M338.4 315.2v5M335.9 319.7h5M338.4 317.2v5M336.4 313h5M338.9 310.5v5M337.4 315.8h5M339.9 313.3v5M337.4 310.1h5M339.9 307.6v5M338 308.6h5M340.5 306.1v5M337.4 313h5M339.9 310.5v5M338.4 312.2h5M340.9 309.7v5M338.4 308.5h5M340.9 306v5M338.5 310.8h5M341 308.3v5M339 308.9h5M341.5 306.4v5M339.6 315.7h5M342.1 313.2v5M340.6 308.3h5M343.1 305.8v5M340.7 310.5h5M343.2 308v5M340.7 311.5h5M343.2 309v5M341.4 316.2h5M343.9 313.7v5M341.7 313.3h5M344.2 310.8v5M343.7 310.8h5M346.2 308.3v5M341.6 310.3h5M344.1 307.8v5M344.7 310.6h5M347.2 308.1v5M343.5 305.3h5M346 302.8v5M344.2 304h5M346.7 301.5v5M345.7 295h5M348.2 292.5v5M344.9 294.4h5M347.4 291.9v5M347.2 294.6h5M349.7 292.1v5M346.1 294.4h5M348.6 291.9v5M350.7 284.9h5M353.2 282.4v5M351.4 279.5h5M353.9 277v5M353.5 291h5M356 288.5v5M352.6 289.6h5M355.1 287.1v5M354.2 296.7h5M356.7 294.2v5M355.6 291.3h5M358.1 288.8v5M354.7 299h5M357.2 296.5v5M354.6 297.1h5M357.1 294.6v5M357.6 301.3h5M360.1 298.8v5M356.5 306.9h5M359 304.4v5M357.8 309.2h5M360.3 306.7v5M357.9 310.7h5M360.4 308.2v5M356.7 314.1h5M359.2 311.6v5M357.4 315.9h5M359.9 313.4v5M359.4 314.7h5M361.9 312.2v5M360.2 308.6h5M362.7 306.1v5M360 310.2h5M362.5 307.7v5M358.9 307.5h5M361.4 305v5M360.4 305.5h5M362.9 303v5M359.5 299.9h5M362 297.4v5M361 303.4h5M363.5 300.9v5M360.8 298.7h5M363.3 296.2v5M359.7 292.3h5M362.2 289.8v5M361.3 289.9h5M363.8 287.4v5M359.8 291.1h5M362.3 288.6v5M360.9 289.5h5M363.4 287v5M360.1 288.4h5M362.6 285.9v5M361.6 278.6h5M364.1 276.1v5M361.8 278.3h5M364.3 275.8v5M360.8 281.3h5M363.3 278.8v5M362 268.1h5M364.5 265.6v5M361 271.6h5M363.5 269.1v5M360.8 268.3h5M363.3 265.8v5M360.7 270.8h5M363.2 268.3v5M362.1 260.9h5M364.6 258.4v5M362.7 261.9h5M365.2 259.4v5M360.5 256.2h5M363 253.7v5M361.5 260.7h5M364 258.2v5M361.6 259.6h5M364.1 257.1v5M364 256.4h5M366.5 253.9v5M364.5 248.9h5M367 246.4v5M362.3 247.6h5M364.8 245.1v5M363.6 248.3h5M366.1 245.8v5M365.2 237.3h5M367.7 234.8v5M363.2 239.5h5M365.7 237v5M364.4 235h5M366.9 232.5v5M364.1 239.3h5M366.6 236.8v5M365.3 237.9h5M367.8 235.4v5M364.8 224.5h5M367.3 222v5M365.8 233.7h5M368.3 231.2v5M365.6 226.8h5M368.1 224.3v5M365.7 224.7h5M368.2 222.2v5M364.5 218.1h5M367 215.6v5M366.3 221.1h5M368.8 218.6v5M367.6 214h5M370.1 211.5v5M365 214.3h5M367.5 211.8v5M368.2 212.5h5M370.7 210v5M367.4 220.7h5M369.9 218.2v5M367 220.1h5M369.5 217.6v5M366.9 223.9h5M369.4 221.4v5M368.1 226.4h5M370.6 223.9v5M368.7 224.8h5M371.2 222.3v5M368.1 231.7h5M370.6 229.2v5M369.6 235.7h5M372.1 233.2v5M369.7 230.6h5M372.2 228.1v5M369.5 238.8h5M372 236.3v5M371.7 234.6h5M374.2 232.1v5M369.9 237.6h5M372.4 235.1v5M370.9 240.7h5M373.4 238.2v5M374 239.3h5M376.5 236.8v5M374.9 234.7h5M377.4 232.2v5M374.3 232h5M376.8 229.5v5M374.5 228.6h5M377 226.1v5M374.4 228.9h5M376.9 226.4v5M375.3 224.5h5M377.8 222v5M376.7 228.4h5M379.2 225.9v5M377 220.6h5M379.5 218.1v5M377 219.7h5M379.5 217.2v5M376.4 220h5M378.9 217.5v5M376.5 219.2h5M379 216.7v5M378.4 213.8h5M380.9 211.3v5M378 205.4h5M380.5 202.9v5M377.4 206h5M379.9 203.5v5M378.7 201.2h5M381.2 198.7v5M378.6 205h5M381.1 202.5v5M378.5 204.3h5M381 201.8v5M379.9 198.8h5M382.4 196.3v5M379.5 196.7h5M382 194.2v5M379.7 196.2h5M382.2 193.7v5M380 189.1h5M382.5 186.6v5M381.3 185.4h5M383.8 182.9v5M383.1 185.5h5M385.6 183v5M381.1 180.8h5M383.6 178.3v5M384.1 184.7h5M386.6 182.2v5M383.2 188.7h5M385.7 186.2v5M385.1 190.3h5M387.6 187.8v5M383.4 194.3h5M385.9 191.8v5M384.7 196h5M387.2 193.5v5M385.7 200.7h5M388.2 198.2v5M386.3 202.8h5M388.8 200.3v5M386 198.9h5M388.5 196.4v5M384.1 206.1h5M386.6 203.6v5M385.1 208.5h5M387.6 206v5M384.9 207.1h5M387.4 204.6v5M387.5 214.3h5M390 211.8v5M385.5 213.6h5M388 211.1v5M385.6 220.9h5M388.1 218.4v5M386.8 221.3h5M389.3 218.8v5M387.8 218.2h5M390.3 215.7v5M388.8 229.4h5M391.3 226.9v5M388.3 223.9h5M390.8 221.4v5M388.2 228.6h5M390.7 226.1v5M387.2 230h5M389.7 227.5v5M388.4 237.9h5M390.9 235.4v5M386.9 233.6h5M389.4 231.1v5M387.1 240h5M389.6 237.5v5M389 243.6h5M391.5 241.1v5M389.3 244.1h5M391.8 241.6v5M390.8 244.9h5M393.3 242.4v5M389 253h5M391.5 250.5v5M390.4 261h5M392.9 258.5v5M392.1 251.6h5M394.6 249.1v5M392 261.3h5M394.5 258.8v5M392.8 258.9h5M395.3 256.4v5M393.8 261.8h5M396.3 259.3v5M394.6 266.7h5M397.1 264.2v5M394.3 267.5h5M396.8 265v5M395.1 273.8h5M397.6 271.3v5M395.2 277.7h5M397.7 275.2v5M393.7 279.6h5M396.2 277.1v5M395.5 276.8h5M398 274.3v5M394.5 283.4h5M397 280.9v5M396.7 282.5h5M399.2 280v5M394.3 285.3h5M396.8 282.8v5M396.5 288.8h5M399 286.3v5M394.8 291.8h5M397.3 289.3v5M396.6 291.8h5M399.1 289.3v5M398.2 301.7h5M400.7 299.2v5M396.7 299.4h5M399.2 296.9v5M398.5 298.1h5M401 295.6v5M400 301.1h5M402.5 298.6v5M403.7 305.6h5M406.2 303.1v5M403.7 303.8h5M406.2 301.3v5M404.8 295.3h5M407.3 292.8v5M403.6 288.5h5M406.1 286v5M404.4 292.9h5M406.9 290.4v5M407.4 293.3h5M409.9 290.8v5M408.4 287.9h5M410.9 285.4v5M409.4 290.7h5M411.9 288.2v5M410.2 301.4h5M412.7 298.9v5M411.8 297.1h5M414.3 294.6v5M411.2 300.7h5M413.7 298.2v5M411.2 301.4h5M413.7 298.9v5M412.4 308h5M414.9 305.5v5M412.8 308.8h5M415.3 306.3v5M412.2 308.4h5M414.7 305.9v5M412.1 315.9h5M414.6 313.4v5M413.2 318.1h5M415.7 315.6v5M414 315.9h5M416.5 313.4v5M415.7 317.4h5M418.2 314.9v5M415.4 321.3h5M417.9 318.8v5M415.8 329.7h5M418.3 327.2v5M417 323.3h5M419.5 320.8v5M414.6 335.6h5M417.1 333.1v5M415.5 327.3h5M418 324.8v5M417.2 328.5h5M419.7 326v5M416 328.5h5M418.5 326v5M416.2 317.2h5M418.7 314.7v5M416.9 324.3h5M419.4 321.8v5M418.3 320.3h5M420.8 317.8v5M419.9 310.9h5M422.4 308.4v5M420.2 318.6h5M422.7 316.1v5M419.5 310.6h5M422 308.1v5M421 308.7h5M423.5 306.2v5M420.6 298.2h5M423.1 295.7v5M419.4 300.2h5M421.9 297.7v5M422.6 304.2h5M425.1 301.7v5M420.8 301.1h5M423.3 298.6v5M422.3 296.8h5M424.8 294.3v5M422.9 287.8h5M425.4 285.3v5M423.7 287.3h5M426.2 284.8v5M422 291.7h5M424.5 289.2v5M424.3 283.4h5M426.8 280.9v5M425.3 278.3h5M427.8 275.8v5M422.6 284.8h5M425.1 282.3v5M424.6 272.9h5M427.1 270.4v5M424.2 275.2h5M426.7 272.7v5M426.1 273.8h5M428.6 271.3v5M426.3 272.8h5M428.8 270.3v5M423.7 271.5h5M426.2 269v5M425.3 267.2h5M427.8 264.7v5M427.2 267h5M429.7 264.5v5M425.2 259.3h5M427.7 256.8v5M425.7 255.1h5M428.2 252.6v5M428 250.1h5M430.5 247.6v5M427.4 254.4h5M429.9 251.9v5M427.5 254.4h5M430 251.9v5M426.5 244.7h5M429 242.2v5M428.1 238.7h5M430.6 236.2v5M427.8 248.5h5M430.3 246v5M428 244.2h5M430.5 241.7v5M428.2 238.5h5M430.7 236v5M426.8 232.6h5M429.3 230.1v5M426.2 233.5h5M428.7 231v5M427.5 230.9h5M430 228.4v5M428.8 235h5M431.3 232.5v5M426.3 228.7h5M428.8 226.2v5M429 218.8h5M431.5 216.3v5M428.4 213.3h5M430.9 210.8v5M427.6 226.6h5M430.1 224.1v5M428.7 219.5h5M431.2 217v5M427.2 218.2h5M429.7 215.7v5M427.1 204.3h5M429.6 201.8v5M428.6 205.7h5M431.1 203.2v5M428.5 208.7h5M431 206.2v5M426.9 208h5M429.4 205.5v5M427.9 192.2h5M430.4 189.7v5M428.4 191.7h5M430.9 189.2v5M427.8 205.5h5M430.3 203v5M427 199.3h5M429.5 196.8v5M428.6 190.6h5M431.1 188.1v5M426.5 189.9h5M429 187.4v5M428.6 191.5h5M431.1 189v5M427.3 186h5M429.8 183.5v5M429.4 196.5h5M431.9 194v5M428.5 191h5M431 188.5v5M430.3 202.4h5M432.8 199.9v5M429 201h5M431.5 198.5v5M431.8 196.1h5M434.3 193.6v5M430.7 203.6h5M433.2 201.1v5M429.2 202.5h5M431.7 200v5M432.5 214.2h5M435 211.7v5M430.1 210.9h5M432.6 208.4v5M431.1 218.5h5M433.6 216v5M431.4 217.8h5M433.9 215.3v5M432.5 224h5M435 221.5v5M432.5 226.2h5M435 223.7v5M433.1 219.9h5M435.6 217.4v5M434.7 228.7h5M437.2 226.2v5M434.6 222.2h5M437.1 219.7v5M433.3 225.5h5M435.8 223v5M434.2 228.1h5M436.7 225.6v5M433.4 227.5h5M435.9 225v5M433.3 233.8h5M435.8 231.3v5M433.1 233.1h5M435.6 230.6v5M433.7 242.3h5M436.2 239.8v5M434.3 239.9h5M436.8 237.4v5M435.4 248.4h5M437.9 245.9v5M435.7 257.5h5M438.2 255v5M433.6 253.2h5M436.1 250.7v5M433.8 260.9h5M436.3 258.4v5M435.4 254.2h5M437.9 251.7v5M435.7 266h5M438.2 263.5v5M436.8 259.9h5M439.3 257.4v5M438.2 261.9h5M440.7 259.4v5M435.5 267.3h5M438 264.8v5M436 272.4h5M438.5 269.9v5M437.9 267h5M440.4 264.5v5M438.3 260.7h5M440.8 258.2v5M439.2 264.9h5M441.7 262.4v5M439.6 267.1h5M442.1 264.6v5M437.7 255.4h5M440.2 252.9v5M440.3 250.6h5M442.8 248.1v5M437.8 245.8h5M440.3 243.3v5M438.5 249h5M441 246.5v5M441.1 251.5h5M443.6 249v5M438.3 243.4h5M440.8 240.9v5M440 249.7h5M442.5 247.2v5M440.3 240.2h5M442.8 237.7v5M439.6 245.4h5M442.1 242.9v5M442.3 240.3h5M444.8 237.8v5M442.4 231.8h5M444.9 229.3v5M440.6 227.1h5M443.1 224.6v5M440.9 231.5h5M443.4 229v5M439.9 219.6h5M442.4 217.1v5M441.5 224.2h5M444 221.7v5M440.5 220.9h5M443 218.4v5M443.3 213.7h5M445.8 211.2v5M442 209.9h5M444.5 207.4v5M440.6 213.6h5M443.1 211.1v5M442.4 206.4h5M444.9 203.9v5M443.4 206.9h5M445.9 204.4v5M443.8 207.1h5M446.3 204.6v5M442.1 199.6h5M444.6 197.1v5M441.2 194.6h5M443.7 192.1v5M441.9 192.1h5M444.4 189.6v5M442.4 199.7h5M444.9 197.2v5M443.7 192.6h5M446.2 190.1v5M441.6 191h5M444.1 188.5v5M443.1 185.2h5M445.6 182.7v5M444.4 186.6h5M446.9 184.1v5M444.3 179.2h5M446.8 176.7v5M443.7 184.8h5M446.2 182.3v5M442.8 184.8h5M445.3 182.3v5M442 189.2h5M444.5 186.7v5M443.4 193.6h5M445.9 191.1v5M442.1 195.4h5M444.6 192.9v5M444.4 195.7h5M446.9 193.2v5M445.3 200.1h5M447.8 197.6v5M443.8 204.3h5M446.3 201.8v5M443.8 209.2h5M446.3 206.7v5M443.4 211.9h5M445.9 209.4v5M444.9 211.2h5M447.4 208.7v5M443.6 214.3h5M446.1 211.8v5M443.2 207.8h5M445.7 205.3v5M444.7 208.7h5M447.2 206.2v5M446.6 210h5M449.1 207.5v5M446 221.1h5M448.5 218.6v5M445.6 221.1h5M448.1 218.6v5M444.7 215.7h5M447.2 213.2v5M446.9 224.6h5M449.4 222.1v5M446.7 236.1h5M449.2 233.6v5M445.5 236.1h5M448 233.6v5M446.1 239.9h5M448.6 237.4v5M448.5 243.6h5M451 241.1v5M446.8 247.2h5M449.3 244.7v5M448.9 232.6h5M451.4 230.1v5M447.1 238h5M449.6 235.5v5M447.5 240.9h5M450 238.4v5M450.2 244.6h5M452.7 242.1v5M449.3 267.3h5M451.8 264.8v5M450.4 264h5M452.9 261.5v5M451.9 254.7h5M454.4 252.2v5M453.2 253.3h5M455.7 250.8v5M454.4 238.6h5M456.9 236.1v5M456.7 246.4h5M459.2 243.9v5M457.4 252.5h5M459.9 250v5M456.3 256.6h5M458.8 254.1v5M456.5 271h5M459 268.5v5M458.1 258.1h5M460.6 255.6v5M459.8 271.7h5M462.3 269.2v5M459.4 278.5h5M461.9 276v5M460.5 266.9h5M463 264.4v5M458.5 280h5M461 277.5v5M459 280.2h5M461.5 277.7v5M459.2 275.1h5M461.7 272.6v5M460.2 284.4h5M462.7 281.9v5M462.2 284.1h5M464.7 281.6v5M461.1 282.8h5M463.6 280.3v5M463.1 288.3h5M465.6 285.8v5M461.7 288.5h5M464.2 286v5M462 283.3h5M464.5 280.8v5M463.7 279.2h5M466.2 276.7v5M464.5 283.3h5M467 280.8v5M462.5 280.6h5M465 278.1v5M463.6 278.6h5M466.1 276.1v5M463.4 265.4h5M465.9 262.9v5M464.7 265.8h5M467.2 263.3v5M462.5 267h5M465 264.5v5M463.5 265.1h5M466 262.6v5M465 265.1h5M467.5 262.6v5M463.9 252.9h5M466.4 250.4v5M465 257.3h5M467.5 254.8v5M464.6 251.7h5M467.1 249.2v5M464.5 255h5M467 252.5v5M466.5 249.4h5M469 246.9v5M465.2 249.6h5M467.7 247.1v5M464 246.6h5M466.5 244.1v5M464.8 248.5h5M467.3 246v5M465.9 240.1h5M468.4 237.6v5M467.9 233.1h5M470.4 230.6v5M467.2 234.9h5M469.7 232.4v5M466.5 228.6h5M469 226.1v5M467.2 228.3h5M469.7 225.8v5M467.7 221.2h5M470.2 218.7v5M468.2 226.1h5M470.7 223.6v5M469.4 219.2h5M471.9 216.7v5M469.2 218.6h5M471.7 216.1v5M469.7 226.5h5M472.2 224v5M472.8 218.1h5M475.3 215.6v5M472.8 212.7h5M475.3 210.2v5M473.6 213.2h5M476.1 210.7v5M472.3 220.3h5M474.8 217.8v5M474.7 227.9h5M477.2 225.4v5M473.3 220.7h5M475.8 218.2v5M473.4 224.6h5M475.9 222.1v5M473.8 231.9h5M476.3 229.4v5M474.2 233.1h5M476.7 230.6v5M476.7 231.4h5M479.2 228.9v5M476.7 236.5h5M479.2 234v5M477.6 239h5M480.1 236.5v5M477.5 237.6h5M480 235.1v5M476.6 239h5M479.1 236.5v5M476.3 242.5h5M478.8 240v5M477.7 242.9h5M480.2 240.4v5M479.3 251.4h5M481.8 248.9v5M480 247.7h5M482.5 245.2v5M480.3 261.9h5M482.8 259.4v5M480.5 261.3h5M483 258.8v5M479.3 256.8h5M481.8 254.3v5M482 261.6h5M484.5 259.1v5M482.6 260.9h5M485.1 258.4v5M483.4 271.7h5M485.9 269.2v5M483 271.9h5M485.5 269.4v5M483.2 263.4h5M485.7 260.9v5M484.4 272h5M486.9 269.5v5M483.1 279h5M485.6 276.5v5M483.2 275.2h5M485.7 272.7v5M485.9 276.4h5M488.4 273.9v5M484.1 277.1h5M486.6 274.6v5M486.4 287.2h5M488.9 284.7v5M489 286.4h5M491.5 283.9v5M489.8 288.5h5M492.3 286v5M490 287.2h5M492.5 284.7v5M490.2 282.9h5M492.7 280.4v5M491.8 277.6h5M494.3 275.1v5M491.2 280.3h5M493.7 277.8v5M490.9 283h5M493.4 280.5v5M493.6 273h5M496.1 270.5v5M493.8 275.4h5M496.3 272.9v5M492.6 262.9h5M495.1 260.4v5M491.9 270.9h5M494.4 268.4v5M494.4 265.4h5M496.9 262.9v5M494.6 260.2h5M497.1 257.7v5M495.4 264.8h5M497.9 262.3v5M494.1 265.4h5M496.6 262.9v5M493.9 258.4h5M496.4 255.9v5M495.9 249.3h5M498.4 246.8v5M495.5 245h5M498 242.5v5M497.3 250.4h5M499.8 247.9v5M497.1 253.3h5M499.6 250.8v5M496.7 237.9h5M499.2 235.4v5M496.4 244.8h5M498.9 242.3v5M495.6 245.1h5M498.1 242.6v5M498.8 236h5M501.3 233.5v5M499.6 240.3h5M502.1 237.8v5M499.3 231.5h5M501.8 229v5M499.8 232.2h5M502.3 229.7v5M500.2 227.4h5M502.7 224.9v5M500.2 234.2h5M502.7 231.7v5M502.9 228.3h5M505.4 225.8v5M502.2 244h5M504.7 241.5v5M504.1 242.6h5M506.6 240.1v5M504.8 253.1h5M507.3 250.6v5M506.2 251.7h5M508.7 249.2v5M507.6 253.9h5M510.1 251.4v5M508.9 264.8h5M511.4 262.3v5M507.1 253.5h5M509.6 251v5M508.4 262.7h5M510.9 260.2v5M511.6 254.8h5M514.1 252.3v5M509.7 250h5M512.2 247.5v5M510.7 244.8h5M513.2 242.3v5M510.4 250.4h5M512.9 247.9v5M510.8 237.5h5M513.3 235v5M511 239.9h5M513.5 237.4v5M513.8 240.5h5M516.3 238v5M512.4 238.3h5M514.9 235.8v5M511.6 231.4h5M514.1 228.9v5M513.6 226.4h5M516.1 223.9v5M512.8 237.9h5M515.3 235.4v5M514.1 228h5M516.6 225.5v5M514.9 225.3h5M517.4 222.8v5M515.1 225.5h5M517.6 223v5M514.7 224.2h5M517.2 221.7v5M514.3 223.5h5M516.8 221v5M515.3 215.4h5M517.8 212.9v5M513.9 216.6h5M516.4 214.1v5M516.2 211.5h5M518.7 209v5M515 210.5h5M517.5 208v5M515.4 210.5h5M517.9 208v5M517.2 202.2h5M519.7 199.7v5M515.6 206.1h5M518.1 203.6v5M515.9 200.6h5M518.4 198.1v5M516.7 201.3h5M519.2 198.8v5M516.7 199.4h5M519.2 196.9v5M517.3 192.4h5M519.8 189.9v5M516.8 193.8h5M519.3 191.3v5M518.8 188.1h5M521.3 185.6v5M517.1 187.1h5M519.6 184.6v5M518.5 187.4h5M521 184.9v5M516.7 177.6h5M519.2 175.1v5M517.4 182.8h5M519.9 180.3v5M519.2 173.1h5M521.7 170.6v5M520.1 177.4h5M522.6 174.9v5M517.6 173.4h5M520.1 170.9v5M518.2 175.2h5M520.7 172.7v5M519 171h5M521.5 168.5v5M520.4 161.2h5M522.9 158.7v5M518.3 164.7h5M520.8 162.2v5M518.5 155.9h5M521 153.4v5M519 161.5h5M521.5 159v5M520.8 152.4h5M523.3 149.9v5M520.2 156.5h5M522.7 154v5M520.5 158.3h5M523 155.8v5M522.6 146.3h5M525.1 143.8v5M520.2 154.1h5M522.7 151.6v5M521 140.5h5M523.5 138v5M521.8 147.4h5M524.3 144.9v5M521.8 143.8h5M524.3 141.3v5M522.1 141.5h5M524.6 139v5M522 140.1h5M524.5 137.6v5M523.9 131.9h5M526.4 129.4v5M521.9 135.3h5M524.4 132.8v5M523.9 125h5M526.4 122.5v5M524.4 121h5M526.9 118.5v5M525.5 129.2h5M528 126.7v5M525.7 131h5M528.2 128.5v5M527.3 137.5h5M529.8 135v5M526.4 143.4h5M528.9 140.9v5M525.6 137h5M528.1 134.5v5M527.6 148.5h5M530.1 146v5M527.5 150.1h5M530 147.6v5M526.5 144.3h5M529 141.8v5M528.6 152h5M531.1 149.5v5M529.1 152.4h5M531.6 149.9v5M528.9 147.9h5M531.4 145.4v5M528.6 151.7h5M531.1 149.2v5M528.4 167.2h5M530.9 164.7v5M529.8 173.6h5M532.3 171.1v5M528 159h5M530.5 156.5v5M530.2 173.9h5M532.7 171.4v5M530.1 166.5h5M532.6 164v5M530.5 166.4h5M533 163.9v5M529.3 170.6h5M531.8 168.1v5M531.5 175.3h5M534 172.8v5M530.5 186.7h5M533 184.2v5M530.3 186.2h5M532.8 183.7v5M532 189.2h5M534.5 186.7v5M531.5 185.9h5M534 183.4v5M529.5 184.1h5M532 181.6v5M531.8 197.4h5M534.3 194.9v5M530.8 188.7h5M533.3 186.2v5M529.9 192.6h5M532.4 190.1v5M532.6 197.6h5M535.1 195.1v5M531.6 207.5h5M534.1 205v5M532.6 202.4h5M535.1 199.9v5M531.1 203.3h5M533.6 200.8v5M531.1 203.2h5M533.6 200.7v5M532 206.2h5M534.5 203.7v5M532.6 208.4h5M535.1 205.9v5M534.2 218.2h5M536.7 215.7v5M533.5 213.9h5M536 211.4v5M533.7 225.3h5M536.2 222.8v5M533.3 222.4h5M535.8 219.9v5M534.7 219.5h5M537.2 217v5M533 229h5M535.5 226.5v5M535.5 228.6h5M538 226.1v5M534.8 236.8h5M537.3 234.3v5M533.3 234.5h5M535.8 232v5M534.6 231.4h5M537.1 228.9v5M534.9 235.5h5M537.4 233v5M533.9 244.4h5M536.4 241.9v5M536.6 248.5h5M539.1 246v5M535.6 252.3h5M538.1 249.8v5M535.7 254.5h5M538.2 252v5M534.8 246.5h5M537.3 244v5M536.4 247.5h5M538.9 245v5M536.8 256.4h5M539.3 253.9v5M536.9 255.9h5M539.4 253.4v5M537.3 261.2h5M539.8 258.7v5M536.4 260.8h5M538.9 258.3v5M538.8 272.9h5M541.3 270.4v5M537.7 257.5h5M540.2 255v5M536.6 266.2h5M539.1 263.7v5M538.7 277.8h5M541.2 275.3v5M538.9 281.1h5M541.4 278.6v5M537.2 281.9h5M539.7 279.4v5M538.3 280.1h5M540.8 277.6v5M538.9 284.4h5M541.4 281.9v5M540.5 289.2h5M543 286.7v5M538.6 279.4h5M541.1 276.9v5M541.2 286h5M543.7 283.5v5M540 276.7h5M542.5 274.2v5M539.9 274.8h5M542.4 272.3v5M541.4 277.7h5M543.9 275.2v5M541.3 280.7h5M543.8 278.2v5M540.2 266.8h5M542.7 264.3v5M542.4 269.5h5M544.9 267v5M541.5 271.9h5M544 269.4v5M541.3 257.7h5M543.8 255.2v5M540.5 258.2h5M543 255.7v5M540.4 252.3h5M542.9 249.8v5M540.7 256.8h5M543.2 254.3v5M542.3 252.9h5M544.8 250.4v5M540.8 249h5M543.3 246.5v5M541.8 241.7h5M544.3 239.2v5M544 248.5h5M546.5 246v5M543.1 237.7h5M545.6 235.2v5M544.3 238.7h5M546.8 236.2v5M545.6 234h5M548.1 231.5v5M546.9 234.1h5M549.4 231.6v5M545.1 233.2h5M547.6 230.7v5M545.9 224.3h5M548.4 221.8v5M547.4 228.9h5M549.9 226.4v5M547.9 224.7h5M550.4 222.2v5M548.9 217.2h5M551.4 214.7v5M549.8 225.5h5M552.3 223v5M549.3 210h5M551.8 207.5v5M549.9 220.2h5M552.4 217.7v5M551.5 215.5h5M554 213v5M552.8 206.5h5M555.3 204v5M551.4 211.5h5M553.9 209v5M553.5 207.9h5M556 205.4v5M551.9 198.1h5M554.4 195.6v5M553 197.7h5M555.5 195.2v5M556.1 194.7h5M558.6 192.2v5M555.2 199h5M557.7 196.5v5M555.3 200.3h5M557.8 197.8v5M553.5 204.4h5M556 201.9v5M556.3 207.7h5M558.8 205.2v5M555 206h5M557.5 203.5v5M555.2 209.1h5M557.7 206.6v5M556.7 217.3h5M559.2 214.8v5M554.2 219.7h5M556.7 217.2v5M556.1 218.8h5M558.6 216.3v5M557.1 223.4h5M559.6 220.9v5M556.7 218.9h5M559.2 216.4v5M554.4 221.9h5M556.9 219.4v5M555.5 229.2h5M558 226.7v5M556.7 232.8h5M559.2 230.3v5M556 230.5h5M558.5 228v5M557 226.7h5M559.5 224.2v5M555.3 242h5M557.8 239.5v5M555.3 244.5h5M557.8 242v5M555.2 241.1h5M557.7 238.6v5M558.3 239.7h5M560.8 237.2v5M558.7 253.7h5M561.2 251.2v5M557.9 253.7h5M560.4 251.2v5M559.4 258.5h5M561.9 256v5M558.3 256.2h5M560.8 253.7v5M558.1 257.8h5M560.6 255.3v5M557.9 260.6h5M560.4 258.1v5M559 260.1h5M561.5 257.6v5M558.2 264.4h5M560.7 261.9v5M560.4 268.4h5M562.9 265.9v5M559.8 273.5h5M562.3 271v5M560 269.2h5M562.5 266.7v5M559.9 273.6h5M562.4 271.1v5M560.4 281.3h5M562.9 278.8v5M560.6 284h5M563.1 281.5v5M560.6 280.5h5M563.1 278v5M560.3 289h5M562.8 286.5v5M562 283.5h5M564.5 281v5M562.4 292.5h5M564.9 290v5M561.6 287.3h5M564.1 284.8v5M562.3 288h5M564.8 285.5v5M563.5 299.4h5M566 296.9v5M562.2 291.5h5M564.7 289v5M172.5 307h5M175 304.5v5M177.2 303h5M179.7 300.5v5M172.6 329h5M175.1 326.5v5M172.6 331.8h5M175.1 329.3v5M177.2 327.2h5M179.7 324.7v5M176.9 339.2h5M179.4 336.7v5M180.9 343.8h5M183.4 341.3v5M186.4 343.8h5M188.9 341.3v5M186 328.9h5M188.5 326.4v5M184.4 326h5M186.9 323.5v5M183.3 326.9h5M185.8 324.4v5M185.6 330.2h5M188.1 327.7v5M186.2 329.9h5M188.7 327.4v5M184.2 326.4h5M186.7 323.9v5M183.6 330.8h5M186.1 328.3v5M182.9 324.3h5M185.4 321.8v5M183.4 330.4h5M185.9 327.9v5M186.3 325.7h5M188.8 323.2v5M186.3 330.1h5M188.8 327.6v5M184.1 324.5h5M186.6 322v5M185.9 326h5M188.4 323.5v5M182.6 330.2h5M185.1 327.7v5M184.2 326.2h5M186.7 323.7v5M185 325h5M187.5 322.5v5M192.1 364h5M194.6 361.5v5M193.9 362.1h5M196.4 359.6v5M193.9 365.8h5M196.4 363.3v5M193.7 365.4h5M196.2 362.9v5M195.1 362.9h5M197.6 360.4v5M192.1 365.4h5M194.6 362.9v5M195.1 363.5h5M197.6 361v5M193 366.3h5M195.5 363.8v5M196.5 363.2h5M199 360.7v5M194.9 364.9h5M197.4 362.4v5M193.6 362.2h5M196.1 359.7v5M193.6 365.2h5M196.1 362.7v5M182.7 373.2h5M185.2 370.7v5M187.3 369.5h5M189.8 367v5M192.9 370.4h5M195.4 367.9v5M186.9 391.5h5M189.4 389v5M186.7 356.7h5M189.2 354.2v5M170 354h5M172.5 351.5v5M167.5 343h5M170 340.5v5M321.7 293h5M324.2 290.5v5M336.7 300.8h5M339.2 298.3v5M305.8 307.5h5M308.3 305v5M292.5 310h5M295 307.5v5M282.5 342.5h5M285 340v5M217.5 339h5M220 336.5v5M295.8 338.3h5M298.3 335.8v5M273.5 339h5M276 336.5v5M349 256h5M351.5 253.5v5M348.5 273.4h5M351 270.9v5M358.5 330h5M361 327.5v5M373.5 257h5M376 254.5v5M374 266h5M376.5 263.5v5M374.2 262h5M376.7 259.5v5M434.2 170h5M436.7 167.5v5M434.8 170.3h5M437.3 167.8v5M435 203h5M437.5 200.5v5M465.8 228.3h5M468.3 225.8v5M501.7 310.5h5M504.2 308v5M511.7 176.7h5M514.2 174.2v5M530 190h5M532.5 187.5v5M554.2 102.5h5M556.7 100v5M554.2 105h5M556.7 102.5v5M554.2 110.3h5M556.7 107.8v5M555 132.5h5M557.5 130v5M553.8 139.2h5M556.3 136.7v5M573.3 105.8h5M575.8 103.3v5M572.8 143.3h5M575.3 140.8v5M560.8 309h5M563.3 306.5v5M561 312.5h5M563.5 310v5M564.2 322h5M566.7 319.5v5M564.4 325.5h5M566.9 323v5M564 327.5h5M566.5 325v5M565 335.8h5M567.5 333.3v5M539.2 291h5M541.7 288.5v5M553.3 186h5M555.8 183.5v5M553.3 190h5M555.8 187.5v5M565 201.7h5M567.5 199.2v5M366.7 227.9h5M369.2 225.4v5M363.4 216.3h5M365.9 213.8v5M364.7 224.2h5M367.2 221.7v5M365 243.2h5M367.5 240.7v5M363.3 246.5h5M365.8 244v5M364.2 241.4h5M366.7 238.9v5M364.2 230.9h5M366.7 228.4v5M365.1 209.5h5M367.6 207v5M368.1 239.6h5M370.6 237.1v5M364.4 238.3h5M366.9 235.8v5M365.9 246.5h5M368.4 244v5M362.9 222.8h5M365.4 220.3v5M381.6 189.2h5M384.1 186.7v5M384.4 191.4h5M386.9 188.9v5M383.2 186.9h5M385.7 184.4v5M384.5 184h5M387 181.5v5M381.8 190.5h5M384.3 188v5M382.7 192.9h5M385.2 190.4v5M381 187.6h5M383.5 185.1v5M381.6 183h5M384.1 180.5v5M381 183.9h5M383.5 181.4v5M382.3 187.3h5M384.8 184.8v5M427.6 187.1h5M430.1 184.6v5M428.8 190.2h5M431.3 187.7v5M430.7 185.4h5M433.2 182.9v5M427.6 189.9h5M430.1 187.4v5M426.7 195.1h5M429.2 192.6v5M425.6 195.3h5M428.1 192.8v5M426.6 187.7h5M429.1 185.2v5M428.3 190.9h5M430.8 188.4v5M426.1 184.2h5M428.6 181.7v5M430.5 188.2h5M433 185.7v5M429.3 221.5h5M431.8 219v5M432.2 216.2h5M434.7 213.7v5M430.8 224.5h5M433.3 222v5M430.9 217.7h5M433.4 215.2v5M435.2 216.8h5M437.7 214.3v5M431.3 213.6h5M433.8 211.1v5M433.1 221.6h5M435.6 219.1v5M431.6 217.5h5M434.1 215v5M430.1 223.6h5M432.6 221.1v5M431.7 224.3h5M434.2 221.8v5M431.1 222.7h5M433.6 220.2v5M428.7 214.5h5M431.2 212v5M435.2 221.9h5M437.7 219.4v5M433.2 219h5M435.7 216.5v5M443.9 214.9h5M446.4 212.4v5M440.9 232.8h5M443.4 230.3v5M446.1 217.3h5M448.6 214.8v5M445.6 212.4h5M448.1 209.9v5M445.3 213.9h5M447.8 211.4v5M444.3 219.6h5M446.8 217.1v5M444.7 212.4h5M447.2 209.9v5M444 231.7h5M446.5 229.2v5M440.5 219.3h5M443 216.8v5M446 228.8h5M448.5 226.3v5M445.4 238.2h5M447.9 235.7v5M444.9 215.9h5M447.4 213.4v5M443.6 240.2h5M446.1 237.7v5M444.9 237.1h5M447.4 234.6v5M442.8 224.9h5M445.3 222.4v5M448.9 239.9h5M451.4 237.4v5M445.7 211.3h5M448.2 208.8v5M445.3 208.3h5M447.8 205.8v5M463.1 272.1h5M465.6 269.6v5M459.7 248.8h5M462.2 246.3v5M461.6 245.8h5M464.1 243.3v5M461.3 257.2h5M463.8 254.7v5M447.8 269.4h5M450.3 266.9v5M454.8 267.4h5M457.3 264.9v5M459 257.6h5M461.5 255.1v5M461.9 246.7h5M464.4 244.2v5M462.5 251.2h5M465 248.7v5M447.9 251.1h5M450.4 248.6v5M448.6 242.4h5M451.1 239.9v5M457.9 244h5M460.4 241.5v5M450.2 249.7h5M452.7 247.2v5M452.2 270.4h5M454.7 267.9v5M462.6 268.7h5M465.1 266.2v5M464 254.5h5M466.5 252v5M460.8 249.3h5M463.3 246.8v5M463 266.8h5M465.5 264.3v5M459.7 247.5h5M462.2 245v5M449 270.5h5M451.5 268v5M525.6 154h5M528.1 151.5v5M529.2 139.4h5M531.7 136.9v5M527.3 149.4h5M529.8 146.9v5M528.3 149.1h5M530.8 146.6v5M521.5 164.6h5M524 162.1v5M522.5 158.1h5M525 155.6v5M528.8 142.7h5M531.3 140.2v5M527.3 147.3h5M529.8 144.8v5M521.8 141.7h5M524.3 139.2v5M530.3 146.4h5M532.8 143.9v5M525.1 150.5h5M527.6 148v5M519.5 158.4h5M522 155.9v5M527.8 162.2h5M530.3 159.7v5M523.3 141.5h5M525.8 139v5M523.2 157.7h5M525.7 155.2v5M526.8 147.6h5M529.3 145.1v5M525.3 139.8h5M527.8 137.3v5M529.9 149.6h5M532.4 147.1v5M569.6 183.6h5M572.1 181.1v5M566.5 181.7h5M569 179.2v5M568 184.4h5M570.5 181.9v5M565.4 168.3h5M567.9 165.8v5M570.9 174.5h5M573.4 172v5M568.3 177.4h5M570.8 174.9v5M566.7 173.1h5M569.2 170.6v5M564.5 184h5M567 181.5v5M567 184.9h5M569.5 182.4v5M570 178h5M572.5 175.5v5M570.8 163.8h5M573.3 161.3v5M572.3 168.8h5M574.8 166.3v5M573.1 183.6h5M575.6 181.1v5M571.3 184.5h5M573.8 182v5M568.9 180.2h5M571.4 177.7v5M574 165.7h5M576.5 163.2v5M565.5 172.4h5M568 169.9v5M569.6 164.5h5M572.1 162v5M566.7 186h5M569.2 183.5v5M568.4 164.5h5M570.9 162v5M566.3 177.3h5M568.8 174.8v5M566.4 174.3h5M568.9 171.8v5M569.9 173.2h5M572.4 170.7v5M569.5 185.1h5M572 182.6v5M564.7 187.9h5M567.2 185.4v5M566.5 161.1h5M569 158.6v5M572.2 177.1h5M574.7 174.6v5M569.9 166.5h5M572.4 164v5M572.3 169.2h5M574.8 166.7v5M571.8 166.8h5M574.3 164.3v5M567.4 198.4h5M569.9 195.9v5M566.4 196.2h5M568.9 193.7v5M564.8 198.4h5M567.3 195.9v5M568 192h5M570.5 189.5v5M567.3 199.5h5M569.8 197v5M565 200.9h5M567.5 198.4v5M519.9 185.7h5M522.4 183.2v5M516.7 186.1h5M519.2 183.6v5M516.8 186.1h5M519.3 183.6v5M517.9 188.3h5M520.4 185.8v5M517 191h5M519.5 188.5v5M517.4 195.3h5M519.9 192.8v5M519.1 186.5h5M521.6 184v5M516.6 185.1h5M519.1 182.6v5M517.1 186.4h5M519.6 183.9v5M519 195.1h5M521.5 192.6v5M517.5 209.5h5M520 207v5M514.6 213.3h5M517.1 210.8v5M515.7 214.5h5M518.2 212v5M515.7 210.2h5M518.2 207.7v5M512.9 231.3h5M515.4 228.8v5M515.1 224.2h5M517.6 221.7v5M514.7 228.8h5M517.2 226.3v5M516.7 224.7h5M519.2 222.2v5M513.4 223.7h5M515.9 221.2v5M517 223.7h5M519.5 221.2v5M518.8 178.7h5M521.3 176.2v5M518.1 178.7h5M520.6 176.2v5M519.1 163.9h5M521.6 161.4v5M521.9 160.6h5M524.4 158.1v5M519.7 166.2h5M522.2 163.7v5M522.4 160.1h5M524.9 157.6v5M520.8 164.4h5M523.3 161.9v5M564.2 287.5h5M566.7 285v5M557.1 281.9h5M559.6 279.4v5M562.9 296h5M565.4 293.5v5M557.8 293.2h5M560.3 290.7v5M562.4 293.7h5M564.9 291.2v5M556 286.6h5M558.5 284.1v5M559 291.7h5M561.5 289.2v5M559.2 276.2h5M561.7 273.7v5M562.5 281.5h5M565 279v5M563.7 282.1h5M566.2 279.6v5M561.3 298.7h5M563.8 296.2v5M557 296.1h5M559.5 293.6v5M556.5 302.9h5M559 300.4v5M556.1 295.9h5M558.6 293.4v5M559.5 277.9h5M562 275.4v5M559.7 288.5h5M562.2 286v5M536.4 257.6h5M538.9 255.1v5M537.2 264.4h5M539.7 261.9v5M540.6 267.6h5M543.1 265.1v5M536.6 261.7h5M539.1 259.2v5M540.6 265.2h5M543.1 262.7v5M538.1 284.6h5M540.6 282.1v5M536.2 281.7h5M538.7 279.2v5M535.4 257.2h5M537.9 254.7v5M533.6 270.1h5M536.1 267.6v5M539.9 260.7h5M542.4 258.2v5M479.5 265.2h5M482 262.7v5M478.1 245h5M480.6 242.5v5M480.2 254h5M482.7 251.5v5M483.7 269.6h5M486.2 267.1v5M477.8 258.5h5M480.3 256v5M479.3 241.1h5M481.8 238.6v5M479.5 270.2h5M482 267.7v5M478.3 259.3h5M480.8 256.8v5M481.8 242.1h5M484.3 239.6v5M483.6 243.6h5M486.1 241.1v5M397.2 304.3h5M399.7 301.8v5M394.4 297.5h5M396.9 295v5M395.5 299.5h5M398 297v5M394.4 293h5M396.9 290.5v5M396.4 291.6h5M398.9 289.1v5M395.1 293.9h5M397.6 291.4v5M399.4 292.7h5M401.9 290.2v5M402.4 298.3h5M404.9 295.8v5M396.7 294.8h5M399.2 292.3v5M402.6 290.9h5M405.1 288.4v5M401.6 292h5M404.1 289.5v5M403.6 298.2h5M406.1 295.7v5M472.5 221.2h5M475 218.7v5M470.4 210.8h5M472.9 208.3v5M472.9 217.6h5M475.4 215.1v5M473 213.6h5M475.5 211.1v5M472.1 212.4h5M474.6 209.9v5M471.8 213.7h5M474.3 211.2v5M392.6 254.4h5M395.1 251.9v5M390.4 260.6h5M392.9 258.1v5M389.1 263.4h5M391.6 260.9v5M392 253.1h5M394.5 250.6v5M389.3 258.2h5M391.8 255.7v5M392 262h5M394.5 259.5v5M391.1 256.4h5M393.6 253.9v5M394.7 253.9h5M397.2 251.4v5M395.4 265.1h5M397.9 262.6v5M395.4 266h5M397.9 263.5v5M390.3 263.7h5M392.8 261.2v5M392.8 252.7h5M395.3 250.2v5M395.5 260.7h5M398 258.2v5M394.2 259h5M396.7 256.5v5M436.3 280.2h5M438.8 277.7v5M436.6 259.1h5M439.1 256.6v5M438.2 256.8h5M440.7 254.3v5M437.6 275h5M440.1 272.5v5M436.3 273.1h5M438.8 270.6v5M436.4 266.6h5M438.9 264.1v5M438.3 274.1h5M440.8 271.6v5M436.2 256.7h5M438.7 254.2v5M492.1 275.9h5M494.6 273.4v5M486.7 275.5h5M489.2 273v5M489.5 285.7h5M492 283.2v5M489 276.3h5M491.5 273.8v5M488.2 279.4h5M490.7 276.9v5M484.4 291.6h5M486.9 289.1v5M492.1 286.8h5M494.6 284.3v5M492.4 278h5M494.9 275.5v5M490.9 271.7h5M493.4 269.2v5M489.9 285h5M492.4 282.5v5M491.9 288.3h5M494.4 285.8v5M491.3 272.5h5M493.8 270v5M355.9 283.1h5M358.4 280.6v5M350.2 281.3h5M352.7 278.8v5M356.1 289.3h5M358.6 286.8v5M356.6 286.4h5M359.1 283.9v5M348.5 277.6h5M351 275.1v5M353.3 278.6h5M355.8 276.1v5M350.5 276.7h5M353 274.2v5M348.4 287.2h5M350.9 284.7v5M349.2 289.4h5M351.7 286.9v5M350.4 289.4h5M352.9 286.9v5M350.1 279.5h5M352.6 277v5M351.2 275.2h5M353.7 272.7v5M351.7 281.5h5M354.2 279v5M346.7 289.6h5M349.2 287.1v5M351 275h5M353.5 272.5v5M358 278.9h5M360.5 276.4v5M349.5 275.4h5M352 272.9v5M347.7 287.1h5M350.2 284.6v5M353.5 283.6h5M356 281.1v5M349.5 279.9h5M352 277.4v5M358.1 281.3h5M360.6 278.8v5M358.4 290.1h5M360.9 287.6v5M499 242.4h5M501.5 239.9v5M497.7 239.1h5M500.2 236.6v5M507 238.7h5M509.5 236.2v5M503.9 241.5h5M506.4 239v5M499.3 235h5M501.8 232.5v5M500.6 231.6h5M503.1 229.1v5M499.7 239h5M502.2 236.5v5M504.2 240.7h5M506.7 238.2v5M504.9 236.4h5M507.4 233.9v5M508.3 241.5h5M510.8 239v5M504.1 229.8h5M506.6 227.3v5M508.4 230.9h5M510.9 228.4v5M498.7 230h5M501.2 227.5v5M505.8 244.4h5M508.3 241.9v5M570.7 164.6h5M573.2 162.1v5M572.2 165.4h5M574.7 162.9v5M569.7 163.2h5M572.2 160.7v5M571.3 162.2h5M573.8 159.7v5" stroke="#1414ff" stroke-width="1.15" fill="none"/>
<line x1="60" y1="358.9" x2="575.5" y2="358.9" stroke="#ff0a0a" stroke-width="3"/>
<path d="M712.5 343h5M715 340.5v5M716.7 230h5M719.2 227.5v5M717 216.7h5M719.5 214.2v5M712.9 250.4h5M715.4 247.9v5M715.7 246h5M718.2 243.5v5M715.2 253.7h5M717.7 251.2v5M713 244.6h5M715.5 242.1v5M714.5 247h5M717 244.5v5M716.3 255h5M718.8 252.5v5M714.3 252.5h5M716.8 250v5M715 245.1h5M717.5 242.6v5M716.4 245.1h5M718.9 242.6v5M712.8 248.4h5M715.3 245.9v5M715.8 258.3h5M718.3 255.8v5M715.5 266.7h5M718 264.2v5M712.5 278h5M715 275.5v5M715.6 205.8h5M718.1 203.3v5M717.6 211.5h5M720.1 209v5M717.6 210.2h5M720.1 207.7v5M719.4 207h5M721.9 204.5v5M716.7 203.7h5M719.2 201.2v5M718 204.7h5M720.5 202.2v5M718.7 206.1h5M721.2 203.6v5M717.1 207.3h5M719.6 204.8v5M721.7 190h5M724.2 187.5v5M720 188.1h5M722.5 185.6v5M719.4 188.6h5M721.9 186.1v5M720.3 196.4h5M722.8 193.9v5M720.9 197.7h5M723.4 195.2v5M722.5 167.5h5M725 165v5M722.5 172h5M725 169.5v5M722.8 170.9h5M725.3 168.4v5M721.9 168.1h5M724.4 165.6v5M721.3 169.3h5M723.8 166.8v5M722 168.3h5M724.5 165.8v5M723.3 107.5h5M725.8 105v5M729.2 113.3h5M731.7 110.8v5M723.3 118.3h5M725.8 115.8v5M729.2 123.6h5M731.7 121.1v5M729 123.8h5M731.5 121.3v5M727 126.1h5M729.5 123.6v5M730.5 125.2h5M733 122.7v5M727.1 125.2h5M729.6 122.7v5M730.9 127.9h5M733.4 125.4v5M730.3 121.3h5M732.8 118.8v5M730.9 125.7h5M733.4 123.2v5M727.9 127.4h5M730.4 124.9v5M730.6 127.3h5M733.1 124.8v5M727.7 125h5M730.2 122.5v5M728.4 123.1h5M730.9 120.6v5M730.3 125.3h5M732.8 122.8v5M728.2 124.8h5M730.7 122.3v5M725.4 128.9h5M727.9 126.4v5M725.3 128.9h5M727.8 126.4v5M725.5 127.6h5M728 125.1v5M731.5 132.5h5M734 130v5M732.5 137.5h5M735 135v5M726.5 140h5M729 137.5v5M732.5 146.7h5M735 144.2v5M733.3 150.8h5M735.8 148.3v5M725.8 152.5h5M728.3 150v5M725.8 155h5M728.3 152.5v5M725.8 157.5h5M728.3 155v5M736.7 152.5h5M739.2 150v5M735.8 161.3h5M738.3 158.8v5M737.1 164.7h5M739.6 162.2v5M736.6 160.7h5M739.1 158.2v5M736.7 161.1h5M739.2 158.6v5M737 164.6h5M739.5 162.1v5M733.6 159.4h5M736.1 156.9v5M737.9 157.2h5M740.4 154.7v5M737.5 157h5M740 154.5v5M736.7 163.3h5M739.2 160.8v5M734.7 159.9h5M737.2 157.4v5M734.2 169h5M736.7 166.5v5M735.1 173.8h5M737.6 171.3v5M736.4 172.6h5M738.9 170.1v5M735.5 172.3h5M738 169.8v5M738.1 174.7h5M740.6 172.2v5M738.1 168.1h5M740.6 165.6v5M736.3 169.8h5M738.8 167.3v5M745.8 232.5h5M748.3 230v5M745.5 246.7h5M748 244.2v5M745.5 251.7h5M748 249.2v5M755.3 170.4h5M757.8 167.9v5M754.8 168.7h5M757.3 166.2v5M756.8 171.3h5M759.3 168.8v5M754.3 166.8h5M756.8 164.3v5M755.8 171.3h5M758.3 168.8v5M754.3 165.8h5M756.8 163.3v5M755.6 164h5M758.1 161.5v5M758.8 161.2h5M761.3 158.7v5M755.2 161.7h5M757.7 159.2v5M754.1 162.6h5M756.6 160.1v5M757.4 164.2h5M759.9 161.7v5M754 165.5h5M756.5 163v5M756.3 161.6h5M758.8 159.1v5M754.2 170h5M756.7 167.5v5M756.7 150h5M759.2 147.5v5M756.7 152.5h5M759.2 150v5M764.6 150.5h5M767.1 148v5M760.6 151.3h5M763.1 148.8v5M764.5 146.5h5M767 144v5M759.2 150.8h5M761.7 148.3v5M764.7 145.7h5M767.2 143.2v5M764.3 150.2h5M766.8 147.7v5M763.4 150.6h5M765.9 148.1v5M765.7 147.2h5M768.2 144.7v5M764.7 151.2h5M767.2 148.7v5M761.3 149.6h5M763.8 147.1v5M760 138h5M762.5 135.5v5M760 141.7h5M762.5 139.2v5M765 140.8h5M767.5 138.3v5M764.2 153.3h5M766.7 150.8v5M767.5 157.5h5M770 155v5M765.8 165h5M768.3 162.5v5M768.3 170h5M770.8 167.5v5M768.1 179.2h5M770.6 176.7v5M767.7 169.6h5M770.2 167.1v5M766.7 174.1h5M769.2 171.6v5M766.3 179.4h5M768.8 176.9v5M768.8 169h5M771.3 166.5v5M768.2 176.2h5M770.7 173.7v5M769.6 197.1h5M772.1 194.6v5M771.7 190.8h5M774.2 188.3v5M769.5 190.4h5M772 187.9v5M771.7 192.9h5M774.2 190.4v5M771.9 188.8h5M774.4 186.3v5M769.6 191.3h5M772.1 188.8v5M775.2 204.4h5M777.7 201.9v5M771.2 209.5h5M773.7 207v5M771.3 208.8h5M773.8 206.3v5M771.2 205.1h5M773.7 202.6v5M774.1 210.6h5M776.6 208.1v5M772.8 206.9h5M775.3 204.4v5M771 206h5M773.5 203.5v5M772 209.9h5M774.5 207.4v5M775 215h5M777.5 212.5v5M778.8 234.7h5M781.3 232.2v5M778 233.3h5M780.5 230.8v5M776.3 228.1h5M778.8 225.6v5M777 226.4h5M779.5 223.9v5M778.9 225.3h5M781.4 222.8v5M777.2 226.4h5M779.7 223.9v5M779.4 232.3h5M781.9 229.8v5M777.8 228h5M780.3 225.5v5M779.7 237.3h5M782.2 234.8v5M777.7 231.1h5M780.2 228.6v5M780.2 236.3h5M782.7 233.8v5M777.6 235.5h5M780.1 233v5M778.7 238.8h5M781.2 236.3v5M777.2 237.2h5M779.7 234.7v5M780.5 245.3h5M783 242.8v5M780.8 259.2h5M783.3 256.7v5M793.3 304.9h5M795.8 302.4v5M791.8 309.8h5M794.3 307.3v5M793 303.5h5M795.5 301v5M791.1 307h5M793.6 304.5v5M792.7 310.9h5M795.2 308.4v5M792.5 302.5h5M795 300v5M792.1 302.2h5M794.6 299.7v5M791.5 306.2h5M794 303.7v5M793 312h5M795.5 309.5v5M793.1 306.4h5M795.6 303.9v5M793.2 301.8h5M795.7 299.3v5M793 308.5h5M795.5 306v5M795.4 319.4h5M797.9 316.9v5M795.8 316.9h5M798.3 314.4v5M795.3 322.1h5M797.8 319.6v5M793.7 322.2h5M796.2 319.7v5M799.1 339.3h5M801.6 336.8v5M803.5 334.2h5M806 331.7v5M798.8 340h5M801.3 337.5v5M807.9 329.3h5M810.4 326.8v5M812.1 331.3h5M814.6 328.8v5M801.9 334.2h5M804.4 331.7v5M805.3 341.4h5M807.8 338.9v5M811.6 337.5h5M814.1 335v5M801.7 329.6h5M804.2 327.1v5M796.7 335.8h5M799.2 333.3v5M805.4 334.7h5M807.9 332.2v5M812.2 334.2h5M814.7 331.7v5M801.5 334.3h5M804 331.8v5M798.4 342.1h5M800.9 339.6v5M805.5 336.1h5M808 333.6v5M802.7 331.8h5M805.2 329.3v5M807.5 323.3h5M810 320.8v5M853.3 325.8h5M855.8 323.3v5M858.3 355.8h5M860.8 353.3v5M856.6 310.8h5M859.1 308.3v5M856.9 313.2h5M859.4 310.7v5M860.3 297.1h5M862.8 294.6v5M857.8 296.6h5M860.3 294.1v5M859.2 302.8h5M861.7 300.3v5M861.9 297.4h5M864.4 294.9v5M861.7 281.7h5M864.2 279.2v5M860.9 282h5M863.4 279.5v5M861.2 300.4h5M863.7 297.9v5M859.7 301.3h5M862.2 298.8v5M856.8 296.7h5M859.3 294.2v5M860.5 302.9h5M863 300.4v5M858.8 305.2h5M861.3 302.7v5M861.4 299h5M863.9 296.5v5M856.9 301.5h5M859.4 299v5M860.4 298.2h5M862.9 295.7v5M860.9 219.4h5M863.4 216.9v5M860.8 221.2h5M863.3 218.7v5M865.5 218h5M868 215.5v5M864.1 217.6h5M866.6 215.1v5M862 217.3h5M864.5 214.8v5M867 219.2h5M869.5 216.7v5M866.2 218.4h5M868.7 215.9v5M867 220.2h5M869.5 217.7v5M865.7 218.7h5M868.2 216.2v5M865 217.3h5M867.5 214.8v5M868.3 220.7h5M870.8 218.2v5M864.2 211.7h5M866.7 209.2v5M880.5 213.3h5M883 210.8v5M868.8 239.5h5M871.3 237v5M867.8 233.4h5M870.3 230.9v5M868.1 243.6h5M870.6 241.1v5M867.5 235.6h5M870 233.1v5M872.8 259.5h5M875.3 257v5M872.1 254.7h5M874.6 252.2v5M870.2 258.7h5M872.7 256.2v5M874.6 268.7h5M877.1 266.2v5M875.3 269.1h5M877.8 266.6v5M878.4 269.7h5M880.9 267.2v5M884 265.1h5M886.5 262.6v5M884 261.1h5M886.5 258.6v5M882.5 261.3h5M885 258.8v5M878 265.2h5M880.5 262.7v5M881 264.4h5M883.5 261.9v5M875.8 280h5M878.3 277.5v5M880.3 253.7h5M882.8 251.2v5M880.8 253.4h5M883.3 250.9v5M880.7 243.5h5M883.2 241v5M882.5 273.3h5M885 270.8v5M882.5 278h5M885 275.5v5M876.4 289.2h5M878.9 286.7v5M874.9 286.7h5M877.4 284.2v5M873.8 294.4h5M876.3 291.9v5M876.3 294.1h5M878.8 291.6v5M886.4 322h5M888.9 319.5v5M887.5 306.2h5M890 303.7v5M886.9 317.9h5M889.4 315.4v5M887.8 305.9h5M890.3 303.4v5M885.8 310.3h5M888.3 307.8v5M888 266.2h5M890.5 263.7v5M891.1 268.2h5M893.6 265.7v5M888.4 269.4h5M890.9 266.9v5M889.4 289.2h5M891.9 286.7v5M889.4 278.3h5M891.9 275.8v5M895.8 265.1h5M898.3 262.6v5M896.1 266.5h5M898.6 264v5M905 264.1h5M907.5 261.6v5M902.5 265.8h5M905 263.3v5M900 264h5M902.5 261.5v5M899 250.9h5M901.5 248.4v5M895.5 239.2h5M898 236.7v5M896.7 236.7h5M899.2 234.2v5M897.1 249.8h5M899.6 247.3v5M897.6 250h5M900.1 247.5v5M898.3 233.6h5M900.8 231.1v5M899.8 264.9h5M902.3 262.4v5M892.9 263.1h5M895.4 260.6v5M894.5 263.1h5M897 260.6v5M892.6 264.6h5M895.1 262.1v5M896.6 266.9h5M899.1 264.4v5M893.9 267.8h5M896.4 265.3v5M908.2 291.7h5M910.7 289.2v5M903.2 297.5h5M905.7 295v5M908.4 286.9h5M910.9 284.4v5M904.7 279.9h5M907.2 277.4v5M900.8 296.6h5M903.3 294.1v5M906.3 273h5M908.8 270.5v5M909.9 296.6h5M912.4 294.1v5M899.6 291h5M902.1 288.5v5M902 286.1h5M904.5 283.6v5M908.9 280.5h5M911.4 278v5M905 290h5M907.5 287.5v5M901.4 288.8h5M903.9 286.3v5M904.2 266.7h5M906.7 264.2v5M914.4 314.7h5M916.9 312.2v5M912.4 310.2h5M914.9 307.7v5M911.1 302.9h5M913.6 300.4v5M911.8 300.8h5M914.3 298.3v5M915.2 301.2h5M917.7 298.7v5M917.5 299.9h5M920 297.4v5M916 312.7h5M918.5 310.2v5M918.6 317.9h5M921.1 315.4v5M923.8 321.3h5M926.3 318.8v5M925.2 319.5h5M927.7 317v5M920.8 327.7h5M923.3 325.2v5M920.4 327.9h5M922.9 325.4v5M924.9 317.7h5M927.4 315.2v5M922 327.5h5M924.5 325v5M923.9 321.3h5M926.4 318.8v5M931.6 320h5M934.1 317.5v5M929.5 311.3h5M932 308.8v5M933.7 311.4h5M936.2 308.9v5M931.7 319.6h5M934.2 317.1v5M926.2 319.1h5M928.7 316.6v5M927.3 320h5M929.8 317.5v5M934.8 336h5M937.3 333.5v5M939.3 334h5M941.8 331.5v5M940.5 334.1h5M943 331.6v5M938.2 330h5M940.7 327.5v5M934.5 329.2h5M937 326.7v5M935.3 334.8h5M937.8 332.3v5M943.2 328.2h5M945.7 325.7v5M947.2 336.2h5M949.7 333.7v5M946.9 323h5M949.4 320.5v5M943.6 332.8h5M946.1 330.3v5M942.3 321.9h5M944.8 319.4v5M939.8 343.3h5M942.3 340.8v5M939 348.9h5M941.5 346.4v5M946 305.4h5M948.5 302.9v5M950.3 309.1h5M952.8 306.6v5M944.5 307.1h5M947 304.6v5M950.8 316.1h5M953.3 313.6v5M945.6 307.2h5M948.1 304.7v5M948.3 298.7h5M950.8 296.2v5M956.8 328.3h5M959.3 325.8v5M954.7 320.3h5M957.2 317.8v5M953.6 332.5h5M956.1 330v5M950.8 324.6h5M953.3 322.1v5M951.2 333.3h5M953.7 330.8v5M951.5 332.6h5M954 330.1v5M967.3 298.3h5M969.8 295.8v5M958 297.8h5M960.5 295.3v5M963.3 295.2h5M965.8 292.7v5M959.2 295.5h5M961.7 293v5M966.9 290.7h5M969.4 288.2v5M967.8 294.3h5M970.3 291.8v5M960.6 292h5M963.1 289.5v5M962.9 297.2h5M965.4 294.7v5M964.2 300.3h5M966.7 297.8v5M963.5 295.5h5M966 293v5M969.1 291.7h5M971.6 289.2v5M959.2 304.2h5M961.7 301.7v5M967.7 308.3h5M970.2 305.8v5M971.2 306.2h5M973.7 303.7v5M972.4 305.3h5M974.9 302.8v5M978.3 309.8h5M980.8 307.3v5M977.8 312h5M980.3 309.5v5M976 312.6h5M978.5 310.1v5M971 312.3h5M973.5 309.8v5M969.2 316.7h5M971.7 314.2v5M969.2 321h5M971.7 318.5v5M971.3 327.4h5M973.8 324.9v5M975.2 330.3h5M977.7 327.8v5M970.9 324.6h5M973.4 322.1v5M977.4 330.7h5M979.9 328.2v5M979 321.6h5M981.5 319.1v5M971.3 321.4h5M973.8 318.9v5M976.4 329.9h5M978.9 327.4v5M987.2 344.3h5M989.7 341.8v5M985.5 340.3h5M988 337.8v5M990.5 341.9h5M993 339.4v5M987.3 340.8h5M989.8 338.3v5M985.3 343.9h5M987.8 341.4v5M986.2 332.4h5M988.7 329.9v5M984.4 337.7h5M986.9 335.2v5M984.5 340.3h5M987 337.8v5M986.7 340.2h5M989.2 337.7v5M987.5 339.9h5M990 337.4v5M993.9 336.2h5M996.4 333.7v5M982.7 344.6h5M985.2 342.1v5M987.1 341h5M989.6 338.5v5M989.4 339.9h5M991.9 337.4v5M985.3 335.2h5M987.8 332.7v5M998.6 338h5M1001.1 335.5v5M995.6 335.6h5M998.1 333.1v5M997.4 349h5M999.9 346.5v5M1005.9 358.1h5M1008.4 355.6v5M996.1 351.3h5M998.6 348.8v5M1003 357.6h5M1005.5 355.1v5M999.5 352.8h5M1002 350.3v5M996 357.6h5M998.5 355.1v5M1005.5 358.3h5M1008 355.8v5M994.2 355.2h5M996.7 352.7v5M1007.3 356.7h5M1009.8 354.2v5M999.4 350h5M1001.9 347.5v5M999.2 360h5M1001.7 357.5v5M1004.6 347.7h5M1007.1 345.2v5M1004.7 348.8h5M1007.2 346.3v5M1008.6 343.8h5M1011.1 341.3v5M1010.1 350.7h5M1012.6 348.2v5M1008.3 338.2h5M1010.8 335.7v5M1016 333.2h5M1018.5 330.7v5M1012.1 339.2h5M1014.6 336.7v5M1017.7 329.7h5M1020.2 327.2v5M1011.9 332.3h5M1014.4 329.8v5M1015.8 332.1h5M1018.3 329.6v5M1014.3 337.8h5M1016.8 335.3v5M1011.3 336.7h5M1013.8 334.2v5M1023 326.2h5M1025.5 323.7v5M1030.2 316.9h5M1032.7 314.4v5M1026.2 313.7h5M1028.7 311.2v5M1024 321.3h5M1026.5 318.8v5M1026.6 317.1h5M1029.1 314.6v5M1019.6 313.9h5M1022.1 311.4v5M1025.7 314.6h5M1028.2 312.1v5M1022.8 321.3h5M1025.3 318.8v5M1027.5 374.2h5M1030 371.7v5M1035 329.3h5M1037.5 326.8v5M1029.6 329.9h5M1032.1 327.4v5M1029.8 331.5h5M1032.3 329v5M1028.8 327.2h5M1031.3 324.7v5M1031.1 332.5h5M1033.6 330v5M1035.3 334.9h5M1037.8 332.4v5M1035.1 335.1h5M1037.6 332.6v5M1036.4 336.6h5M1038.9 334.1v5M1039.2 336.7h5M1041.7 334.2v5M1041.6 325.7h5M1044.1 323.2v5M1043.1 330.7h5M1045.6 328.2v5M1041.3 330.9h5M1043.8 328.4v5M1040.5 331.5h5M1043 329v5M1049.5 344.1h5M1052 341.6v5M1048 338.6h5M1050.5 336.1v5M1045.6 346.8h5M1048.1 344.3v5M1047.8 344.3h5M1050.3 341.8v5M1048.8 342h5M1051.3 339.5v5M1046.3 337.4h5M1048.8 334.9v5M1050 289.2h5M1052.5 286.7v5M1055.3 325.1h5M1057.8 322.6v5M1057 318.3h5M1059.5 315.8v5M1058.4 322.6h5M1060.9 320.1v5M1053.1 320.9h5M1055.6 318.4v5M1054.3 326.5h5M1056.8 324v5M1057.1 321.6h5M1059.6 319.1v5M1058.7 313.8h5M1061.2 311.3v5M1058.9 314.2h5M1061.4 311.7v5M1061.5 317h5M1064 314.5v5M1065.5 305.7h5M1068 303.2v5M1065.2 299.3h5M1067.7 296.8v5M1061.1 299.7h5M1063.6 297.2v5M1062.5 302.7h5M1065 300.2v5M1066.3 303.2h5M1068.8 300.7v5M1061.5 293.9h5M1064 291.4v5M1062.5 296.9h5M1065 294.4v5M1067.5 275.7h5M1070 273.2v5M1070.7 278.8h5M1073.2 276.3v5M1070 276.8h5M1072.5 274.3v5M1069.1 280.3h5M1071.6 277.8v5M1070.2 279.5h5M1072.7 277v5M1071.5 275.3h5M1074 272.8v5M1076.2 283.1h5M1078.7 280.6v5M1075.1 280.1h5M1077.6 277.6v5M1072.7 276h5M1075.2 273.5v5M1071.4 283.1h5M1073.9 280.6v5M1071.1 279.4h5M1073.6 276.9v5M1077.5 265.8h5M1080 263.3v5M1077.5 269.5h5M1080 267v5M1077.5 273.3h5M1080 270.8v5M1080.9 279.9h5M1083.4 277.4v5M1081.4 286.1h5M1083.9 283.6v5M1080.4 279.7h5M1082.9 277.2v5M1082.3 283.8h5M1084.8 281.3v5M1079.2 294.2h5M1081.7 291.7v5M1084.2 298.3h5M1086.7 295.8v5M1087.6 290h5M1090.1 287.5v5M1090 288.7h5M1092.5 286.2v5M1085.3 291.1h5M1087.8 288.6v5M1087.6 295.4h5M1090.1 292.9v5M1087.9 300h5M1090.4 297.5v5M1090.1 295.3h5M1092.6 292.8v5M1089.5 327.7h5M1092 325.2v5M1089.4 315.7h5M1091.9 313.2v5M1090.4 322.4h5M1092.9 319.9v5M1095.7 311.3h5M1098.2 308.8v5M1091.6 328.2h5M1094.1 325.7v5M1094.9 310.8h5M1097.4 308.3v5M1094.9 326.9h5M1097.4 324.4v5M1098.5 333h5M1101 330.5v5M1100.2 334.3h5M1102.7 331.8v5M1096.7 333.1h5M1099.2 330.6v5M1098.5 332.8h5M1101 330.3v5M1102 354.8h5M1104.5 352.3v5M1104 353h5M1106.5 350.5v5M1106.9 349.3h5M1109.4 346.8v5M1101.4 359.2h5M1103.9 356.7v5M1107.6 359.1h5M1110.1 356.6v5M1106.5 354.6h5M1109 352.1v5M1106.7 355h5M1109.2 352.5v5M1106.6 363h5M1109.1 360.5v5M1106.5 370.2h5M1109 367.7v5M1108 364.8h5M1110.5 362.3v5M1109.4 361.2h5M1111.9 358.7v5M1110.5 369.3h5M1113 366.8v5M1116.1 351.3h5M1118.6 348.8v5M1112.9 339.1h5M1115.4 336.6v5M1115.9 348.2h5M1118.4 345.7v5M1113.3 342.4h5M1115.8 339.9v5M1111.8 350.5h5M1114.3 348v5M1116.3 350.5h5M1118.8 348v5M1115.3 343.1h5M1117.8 340.6v5M1116.8 349.5h5M1119.3 347v5M1119.8 343.6h5M1122.3 341.1v5M1118.3 344.4h5M1120.8 341.9v5M1120 338.3h5M1122.5 335.8v5M1124.7 356.3h5M1127.2 353.8v5M1122.1 353h5M1124.6 350.5v5M1119.8 357.3h5M1122.3 354.8v5M1124.1 352.5h5M1126.6 350v5M1118.2 351.6h5M1120.7 349.1v5M1120.8 365h5M1123.3 362.5v5M1121.7 368h5M1124.2 365.5v5M1133.8 329.2h5M1136.3 326.7v5M1132.3 339.8h5M1134.8 337.3v5M1129.7 340h5M1132.2 337.5v5M1128.3 340.4h5M1130.8 337.9v5M1125.1 348.3h5M1127.6 345.8v5M1125.2 331.3h5M1127.7 328.8v5M1130.9 342.2h5M1133.4 339.7v5M1132.3 343.3h5M1134.8 340.8v5M1133.5 329.4h5M1136 326.9v5M1124.3 333.4h5M1126.8 330.9v5M1138.2 326.8h5M1140.7 324.3v5M1135.4 334h5M1137.9 331.5v5M1131 331.2h5M1133.5 328.7v5M1139.6 333.7h5M1142.1 331.2v5M1133.8 330.6h5M1136.3 328.1v5M1132.4 336.2h5M1134.9 333.7v5M1138.3 333h5M1140.8 330.5v5M1139.3 326.4h5M1141.8 323.9v5M1140.3 327.3h5M1142.8 324.8v5M1139.6 328.4h5M1142.1 325.9v5M1141.5 322.7h5M1144 320.2v5M1143.8 275.8h5M1146.3 273.3v5M1143.8 280.8h5M1146.3 278.3v5M1143.3 291.7h5M1145.8 289.2v5M1143.3 295.8h5M1145.8 293.3v5M1142.5 317h5M1145 314.5v5M1147 354.4h5M1149.5 351.9v5M1146.8 356.2h5M1149.3 353.7v5M1144.2 355.5h5M1146.7 353v5M1147.8 350.7h5M1150.3 348.2v5M1156.3 359.7h5M1158.8 357.2v5M1152 371.2h5M1154.5 368.7v5M1156 364.3h5M1158.5 361.8v5M1157.5 369.9h5M1160 367.4v5M1149.6 359.2h5M1152.1 356.7v5M1149.8 368.3h5M1152.3 365.8v5M1151.9 362h5M1154.4 359.5v5M1161.2 362h5M1163.7 359.5v5M1165 381h5M1167.5 378.5v5M1162.1 371.1h5M1164.6 368.6v5M1160.1 375.1h5M1162.6 372.6v5M1160.4 384.4h5M1162.9 381.9v5M1165.4 378.2h5M1167.9 375.7v5M1164.4 361.9h5M1166.9 359.4v5M1158.5 368.6h5M1161 366.1v5M1165.8 389h5M1168.3 386.5v5M1165.8 393h5M1168.3 390.5v5M1165.8 396.7h5M1168.3 394.2v5M1166.5 380h5M1169 377.5v5M1168.9 319.7h5M1171.4 317.2v5M1185.5 328.3h5M1188 325.8v5M1185 315.6h5M1187.5 313.1v5M1170.8 311.5h5M1173.3 309v5M1171.8 312.2h5M1174.3 309.7v5M1176.7 317.2h5M1179.2 314.7v5M1179.5 322.6h5M1182 320.1v5M1178 317.2h5M1180.5 314.7v5M1180.7 325.3h5M1183.2 322.8v5M1180.3 320.8h5M1182.8 318.3v5M1175.5 316.9h5M1178 314.4v5M1167.3 320.6h5M1169.8 318.1v5M1178.4 314.9h5M1180.9 312.4v5M1183.1 329.2h5M1185.6 326.7v5M1183 327.9h5M1185.5 325.4v5M1175.9 314.6h5M1178.4 312.1v5M1171.7 326.3h5M1174.2 323.8v5M1185.5 313.3h5M1188 310.8v5M1166.6 318.3h5M1169.1 315.8v5M1173.2 323.4h5M1175.7 320.9v5M1168.7 328.5h5M1171.2 326v5M1173 329.8h5M1175.5 327.3v5M1172.9 317.3h5M1175.4 314.8v5M1169.9 331h5M1172.4 328.5v5M1177.9 328.1h5M1180.4 325.6v5M1167.7 322.2h5M1170.2 319.7v5M1180.6 331.4h5M1183.1 328.9v5M1184.6 313.2h5M1187.1 310.7v5M1173.7 331.7h5M1176.2 329.2v5M1176.8 330.8h5M1179.3 328.3v5M1171.4 311.5h5M1173.9 309v5M1184.8 316.5h5M1187.3 314v5M1177.3 318.5h5M1179.8 316v5M1177.6 330.3h5M1180.1 327.8v5M1184.8 329.2h5M1187.3 326.7v5M1171.5 328h5M1174 325.5v5M1166.9 319.6h5M1169.4 317.1v5M1184.7 316.3h5M1187.2 313.8v5M1173.6 323h5M1176.1 320.5v5M1171.1 325.7h5M1173.6 323.2v5M1179.1 313h5M1181.6 310.5v5M1184.3 312.5h5M1186.8 310v5M1173.3 310.8h5M1175.8 308.3v5M1176.7 330.8h5M1179.2 328.3v5M1184.2 305.8h5M1186.7 303.3v5M1185.3 288.3h5M1187.8 285.8v5M1184.5 305.8h5M1187 303.3v5M1173.3 311.7h5M1175.8 309.2v5M789.8 300.6h5M792.3 298.1v5M791.3 301.5h5M793.8 299v5M792 305.4h5M794.5 302.9v5M791.3 309.6h5M793.8 307.1v5M792.4 311.2h5M794.9 308.7v5M792.3 314.4h5M794.8 311.9v5M792.4 316.9h5M794.9 314.4v5M793.4 321.1h5M795.9 318.6v5M794.7 322.6h5M797.2 320.1v5M794.7 325h5M797.2 322.5v5M794.8 328.5h5M797.3 326v5M795.7 329h5M798.2 326.5v5M799 331.9h5M801.5 329.4v5M799.7 339.1h5M802.2 336.6v5M805.3 337h5M807.8 334.5v5M809.1 335.1h5M811.6 332.6v5M810 335.3h5M812.5 332.8v5M810.9 328.2h5M813.4 325.7v5M813.3 325.8h5M815.8 323.3v5M813.1 323.7h5M815.6 321.2v5M814 319.7h5M816.5 317.2v5M813.8 317.9h5M816.3 315.4v5M814.8 313.8h5M817.3 311.3v5M815.9 316.1h5M818.4 313.6v5M815.9 317h5M818.4 314.5v5M817.5 319.8h5M820 317.3v5M818.7 321.8h5M821.2 319.3v5M819.8 324.7h5M822.3 322.2v5M822 329.1h5M824.5 326.6v5M822.1 332.5h5M824.6 330v5M824.1 335.3h5M826.6 332.8v5M826.3 337.8h5M828.8 335.3v5M827.7 341.4h5M830.2 338.9v5M828.3 343.8h5M830.8 341.3v5M829.2 347.9h5M831.7 345.4v5M830.5 347.7h5M833 345.2v5M830.2 352.2h5M832.7 349.7v5M831.6 350.7h5M834.1 348.2v5M832.7 354.1h5M835.2 351.6v5M833 358h5M835.5 355.5v5M834 364.8h5M836.5 362.3v5M834.9 366.2h5M837.4 363.7v5M834.9 366.5h5M837.4 364v5M835.1 373.9h5M837.6 371.4v5M837 374h5M839.5 371.5v5M838.3 376.4h5M840.8 373.9v5M839.4 375.1h5M841.9 372.6v5M841.2 374.5h5M843.7 372v5M840.9 369.8h5M843.4 367.3v5M842.8 363.3h5M845.3 360.8v5M843.1 362.5h5M845.6 360v5M844.2 360.2h5M846.7 357.7v5M845.8 354.4h5M848.3 351.9v5M848 353.4h5M850.5 350.9v5M847.9 346h5M850.4 343.5v5M850 344.9h5M852.5 342.4v5M849.7 341.2h5M852.2 338.7v5M852 334.4h5M854.5 331.9v5M853.1 332.1h5M855.6 329.6v5M852.5 327.2h5M855 324.7v5M854.4 326.4h5M856.9 323.9v5M855.2 322.7h5M857.7 320.2v5M855.5 319.5h5M858 317v5M854.7 313.7h5M857.2 311.2v5M856.3 311.3h5M858.8 308.8v5M855.6 307.1h5M858.1 304.6v5M857.2 308.3h5M859.7 305.8v5M857.2 303.1h5M859.7 300.6v5M863.8 216.5h5M866.3 214v5M866.1 216.3h5M868.6 213.8v5M867.4 219.4h5M869.9 216.9v5M867.9 222.5h5M870.4 220v5M868.8 225.2h5M871.3 222.7v5M869.9 229.7h5M872.4 227.2v5M870.4 230.4h5M872.9 227.9v5M870.2 234.9h5M872.7 232.4v5M869.7 236.8h5M872.2 234.3v5M871.2 241.5h5M873.7 239v5M870.8 241.7h5M873.3 239.2v5M871.1 244.2h5M873.6 241.7v5M871.4 248.9h5M873.9 246.4v5M872 252.6h5M874.5 250.1v5M872.6 254.5h5M875.1 252v5M871.5 260h5M874 257.5v5M871.9 260.6h5M874.4 258.1v5M872 262.7h5M874.5 260.2v5M872.5 267.2h5M875 264.7v5M872.8 268.9h5M875.3 266.4v5M873.3 273.9h5M875.8 271.4v5M874.3 276.7h5M876.8 274.2v5M873.2 282.9h5M875.7 280.4v5M874.2 283.1h5M876.7 280.6v5M875.1 286.2h5M877.6 283.7v5M875.1 289.6h5M877.6 287.1v5M875.7 293.5h5M878.2 291v5M876.1 292.8h5M878.6 290.3v5M875.5 288.1h5M878 285.6v5M877.3 287.8h5M879.8 285.3v5M876.6 280.6h5M879.1 278.1v5M878.1 279.1h5M880.6 276.6v5M877.6 278.9h5M880.1 276.4v5M878.1 276.6h5M880.6 274.1v5M878.1 272h5M880.6 269.5v5M878 265.6h5M880.5 263.1v5M879.1 262.6h5M881.6 260.1v5M879.7 262.1h5M882.2 259.6v5M879.6 259.3h5M882.1 256.8v5M879.3 253.1h5M881.8 250.6v5M880.8 249.5h5M883.3 247v5M880.1 248.9h5M882.6 246.4v5M880.1 251.7h5M882.6 249.2v5M881.3 253h5M883.8 250.5v5M881.1 256.3h5M883.6 253.8v5M881.4 261.2h5M883.9 258.7v5M881.7 265.5h5M884.2 263v5M882.8 266.7h5M885.3 264.2v5M882.5 270.4h5M885 267.9v5M883.1 272.7h5M885.6 270.2v5M882.6 276h5M885.1 273.5v5M883.1 277.6h5M885.6 275.1v5M882.8 279.5h5M885.3 277v5M883.4 283.2h5M885.9 280.7v5M883.6 288.6h5M886.1 286.1v5M883.3 288h5M885.8 285.5v5M883.3 294.2h5M885.8 291.7v5M883.8 292.9h5M886.3 290.4v5M884 297.1h5M886.5 294.6v5M884.2 299.6h5M886.7 297.1v5M884.5 304.2h5M887 301.7v5M884 307.7h5M886.5 305.2v5M884.7 311.8h5M887.2 309.3v5M885.6 313.9h5M888.1 311.4v5M884.7 318h5M887.2 315.5v5M885.8 320.2h5M888.3 317.7v5M887.2 325.6h5M889.7 323.1v5M887.4 322.5h5M889.9 320v5M887.4 320.3h5M889.9 317.8v5M887.8 315.1h5M890.3 312.6v5M886.6 313.4h5M889.1 310.9v5M887.7 311.5h5M890.2 309v5M887.5 305.7h5M890 303.2v5M887.4 302.7h5M889.9 300.2v5M888.8 299.6h5M891.3 297.1v5M888.6 295.7h5M891.1 293.2v5M888.8 292.5h5M891.3 290v5M887.9 293.3h5M890.4 290.8v5M889.2 291.5h5M891.7 289v5M888.9 286.2h5M891.4 283.7v5M889.1 282.1h5M891.6 279.6v5M889.9 278.1h5M892.4 275.6v5M888.9 278.4h5M891.4 275.9v5M889.5 274.5h5M892 272v5M891.2 269.9h5M893.7 267.4v5M892.1 268.1h5M894.6 265.6v5M893.8 267.7h5M896.3 265.2v5M894.8 263.6h5M897.3 261.1v5M896 256.6h5M898.5 254.1v5M895.9 254.8h5M898.4 252.3v5M896.4 252.9h5M898.9 250.4v5M897.6 250.3h5M900.1 247.8v5M896.9 248.9h5M899.4 246.4v5M897.7 242.8h5M900.2 240.3v5M897.5 241.6h5M900 239.1v5M898.4 236.9h5M900.9 234.4v5M898.7 236.3h5M901.2 233.8v5M898.5 242.3h5M901 239.8v5M899.3 247.3h5M901.8 244.8v5M899.2 245.1h5M901.7 242.6v5M900.1 252.1h5M902.6 249.6v5M899.3 250.9h5M901.8 248.4v5M901.3 253.7h5M903.8 251.2v5M900.3 258.2h5M902.8 255.7v5M900.9 262.1h5M903.4 259.6v5M902.2 266.5h5M904.7 264v5M902.9 272h5M905.4 269.5v5M904.1 270.5h5M906.6 268v5M906.3 278.8h5M908.8 276.3v5M907 283.7h5M909.5 281.2v5M908.3 286.6h5M910.8 284.1v5M908 289.9h5M910.5 287.4v5M909.7 290.8h5M912.2 288.3v5M909.7 299.7h5M912.2 297.2v5M911.1 302.8h5M913.6 300.3v5M913 306.3h5M915.5 303.8v5M913.7 308.4h5M916.2 305.9v5M914.7 306h5M917.2 303.5v5M914.9 313.6h5M917.4 311.1v5M915.8 313.3h5M918.3 310.8v5M918 315.6h5M920.5 313.1v5M919.7 321.3h5M922.2 318.8v5M920.6 324.5h5M923.1 322v5M923.4 324.1h5M925.9 321.6v5M926.7 318.5h5M929.2 316v5M929.2 313.1h5M931.7 310.6v5M931.7 317.8h5M934.2 315.3v5M933.7 320.7h5M936.2 318.2v5M934.7 325.3h5M937.2 322.8v5M935.5 324.7h5M938 322.2v5M936.6 329.5h5M939.1 327v5M936.4 332.7h5M938.9 330.2v5M938.2 338h5M940.7 335.5v5M938.4 337.1h5M940.9 334.6v5M939.1 339.8h5M941.6 337.3v5M939.8 345h5M942.3 342.5v5M940.6 340.3h5M943.1 337.8v5M940.2 339.8h5M942.7 337.3v5M940.8 333.3h5M943.3 330.8v5M942.7 332.6h5M945.2 330.1v5M942.5 328.8h5M945 326.3v5M942.9 325.4h5M945.4 322.9v5M942.7 324.6h5M945.2 322.1v5M944.4 317.8h5M946.9 315.3v5M945.5 315.4h5M948 312.9v5M944.7 314.4h5M947.2 311.9v5M946.7 309.7h5M949.2 307.2v5M947.4 305h5M949.9 302.5v5M947.8 310.5h5M950.3 308v5M949.6 309.7h5M952.1 307.2v5M950.8 313.3h5M953.3 310.8v5M951.3 320.9h5M953.8 318.4v5M952 319.5h5M954.5 317v5M953.1 324h5M955.6 321.5v5M952.8 329.8h5M955.3 327.3v5M954.4 325h5M956.9 322.5v5M955 324.7h5M957.5 322.2v5M954.9 316.1h5M957.4 313.6v5M956.3 314.4h5M958.8 311.9v5M956.9 312.4h5M959.4 309.9v5M957.1 305.7h5M959.6 303.2v5M956.8 307.6h5M959.3 305.1v5M958.9 302.9h5M961.4 300.4v5M958.8 298.6h5M961.3 296.1v5M959.8 294h5M962.3 291.5v5M962.4 290.8h5M964.9 288.3v5M965 294.3h5M967.5 291.8v5M966.3 295.4h5M968.8 292.9v5M968.1 296.6h5M970.6 294.1v5M968.8 302.3h5M971.3 299.8v5M970.9 303.3h5M973.4 300.8v5M971.7 303.3h5M974.2 300.8v5M973 308.9h5M975.5 306.4v5M973.9 310.1h5M976.4 307.6v5M976.1 313.9h5M978.6 311.4v5M977.5 318.1h5M980 315.6v5M977.7 320h5M980.2 317.5v5M980.3 322h5M982.8 319.5v5M980 328.4h5M982.5 325.9v5M982 330.8h5M984.5 328.3v5M982.9 332.2h5M985.4 329.7v5M983.6 332.6h5M986.1 330.1v5M985.1 338.5h5M987.6 336v5M986.8 339.5h5M989.3 337v5M989.5 344.3h5M992 341.8v5M990.8 344.3h5M993.3 341.8v5M993.6 345.1h5M996.1 342.6v5M995.1 348h5M997.6 345.5v5M997.2 351.7h5M999.7 349.2v5M997.1 355.7h5M999.6 353.2v5M998.3 356.1h5M1000.8 353.6v5M1002.2 349.4h5M1004.7 346.9v5M1003.1 350.1h5M1005.6 347.6v5M1006.1 348.9h5M1008.6 346.4v5M1007.6 345.5h5M1010.1 343v5M1008 340.5h5M1010.5 338v5M1010.1 337.7h5M1012.6 335.2v5M1010.7 337.4h5M1013.2 334.9v5M1013.7 334.7h5M1016.2 332.2v5M1015.5 326.5h5M1018 324v5M1016.9 326.8h5M1019.4 324.3v5M1016.8 323.2h5M1019.3 320.7v5M1019 321.9h5M1021.5 319.4v5M1022 319.6h5M1024.5 317.1v5M1024.8 319.7h5M1027.3 317.2v5M1026 321h5M1028.5 318.5v5M1026 324.1h5M1028.5 321.6v5M1028.1 325h5M1030.6 322.5v5M1030.3 329.7h5M1032.8 327.2v5M1031.2 326h5M1033.7 323.5v5M1033.3 330.5h5M1035.8 328v5M1035.6 335.3h5M1038.1 332.8v5M1038.4 333.8h5M1040.9 331.3v5M1040 332.2h5M1042.5 329.7v5M1040.9 325.9h5M1043.4 323.4v5M1042.4 328.7h5M1044.9 326.2v5M1042.9 328.7h5M1045.4 326.2v5M1044.7 337.5h5M1047.2 335v5M1045.4 334.5h5M1047.9 332v5M1046.4 340.9h5M1048.9 338.4v5M1047.1 341.4h5M1049.6 338.9v5M1049.9 342.7h5M1052.4 340.2v5M1051.9 337h5M1054.4 334.5v5M1052.3 330.6h5M1054.8 328.1v5M1053.4 332.6h5M1055.9 330.1v5M1054.1 326.2h5M1056.6 323.7v5M1055.8 325.7h5M1058.3 323.2v5M1056.6 320.7h5M1059.1 318.2v5M1057.9 320.3h5M1060.4 317.8v5M1058.9 312.3h5M1061.4 309.8v5M1060.5 310.9h5M1063 308.4v5M1060.6 308.5h5M1063.1 306v5M1061.2 304.7h5M1063.7 302.2v5M1062.1 304.1h5M1064.6 301.6v5M1063.1 302.1h5M1065.6 299.6v5M1063.9 298.1h5M1066.4 295.6v5M1065.5 292.3h5M1068 289.8v5M1064.8 291.2h5M1067.3 288.7v5M1066.3 290.3h5M1068.8 287.8v5M1067.1 284.6h5M1069.6 282.1v5M1068.8 280.3h5M1071.3 277.8v5M1072.2 278.1h5M1074.7 275.6v5M1075 278.2h5M1077.5 275.7v5M1076.8 270.1h5M1079.3 267.6v5M1077.7 272.2h5M1080.2 269.7v5M1077.9 273h5M1080.4 270.5v5M1078.9 277h5M1081.4 274.5v5M1081.1 282.2h5M1083.6 279.7v5M1081.1 281.4h5M1083.6 278.9v5M1082.7 287.3h5M1085.2 284.8v5M1082.8 288.3h5M1085.3 285.8v5M1085 290.6h5M1087.5 288.1v5M1085.2 291.6h5M1087.7 289.1v5M1086.7 297.8h5M1089.2 295.3v5M1087.8 295.1h5M1090.3 292.6v5M1088.5 302.6h5M1091 300.1v5M1089.6 308.6h5M1092.1 306.1v5M1089.5 308.5h5M1092 306v5M1090.8 314.3h5M1093.3 311.8v5M1092.4 313.7h5M1094.9 311.2v5M1092.7 320h5M1095.2 317.5v5M1092.8 321.6h5M1095.3 319.1v5M1094.6 326.1h5M1097.1 323.6v5M1095 323.7h5M1097.5 321.2v5M1097.3 332.3h5M1099.8 329.8v5M1096.7 335.6h5M1099.2 333.1v5M1099.1 340.7h5M1101.6 338.2v5M1099.2 338.3h5M1101.7 335.8v5M1099.3 342.3h5M1101.8 339.8v5M1101.1 347.5h5M1103.6 345v5M1101.7 348h5M1104.2 345.5v5M1102.7 354.3h5M1105.2 351.8v5M1105.1 357.1h5M1107.6 354.6v5M1105.7 360.6h5M1108.2 358.1v5M1107.3 359.9h5M1109.8 357.4v5M1108 366.7h5M1110.5 364.2v5M1111 367.1h5M1113.5 364.6v5M1111.4 362.9h5M1113.9 360.4v5M1111.9 361.3h5M1114.4 358.8v5M1111.6 353.4h5M1114.1 350.9v5M1111.4 352.4h5M1113.9 349.9v5M1111.9 354.3h5M1114.4 351.8v5M1113.4 350.9h5M1115.9 348.4v5M1115.2 347.2h5M1117.7 344.7v5M1115.4 344h5M1117.9 341.5v5M1116.4 346.5h5M1118.9 344v5M1118.9 351.2h5M1121.4 348.7v5M1120.9 354.3h5M1123.4 351.8v5M1123.1 348.9h5M1125.6 346.4v5M1123.9 350.9h5M1126.4 348.4v5M1125.1 347.8h5M1127.6 345.3v5M1125.5 341.5h5M1128 339v5M1126.2 342h5M1128.7 339.5v5M1127.4 340.2h5M1129.9 337.7v5M1129.8 333.3h5M1132.3 330.8v5M1131.5 331.2h5M1134 328.7v5M1133.2 327.1h5M1135.7 324.6v5M1135 328.3h5M1137.5 325.8v5M1136.9 322.4h5M1139.4 319.9v5M1138.8 324.1h5M1141.3 321.6v5M1142 319.1h5M1144.5 316.6v5M1142.6 322h5M1145.1 319.5v5M1142.3 324.4h5M1144.8 321.9v5M1142.4 328.5h5M1144.9 326v5M1143.7 331.4h5M1146.2 328.9v5M1143.7 334.6h5M1146.2 332.1v5M1144 335.2h5M1146.5 332.7v5M1143.8 342.1h5M1146.3 339.6v5M1144.7 341.2h5M1147.2 338.7v5M1144.7 345.5h5M1147.2 343v5M1144.3 346.7h5M1146.8 344.2v5M1147.8 351.8h5M1150.3 349.3v5M1148 353.3h5M1150.5 350.8v5M1150.3 357.5h5M1152.8 355v5M1149.8 361.2h5M1152.3 358.7v5M1151.3 367.7h5M1153.8 365.2v5M1153.9 369.6h5M1156.4 367.1v5M1156.3 369h5M1158.8 366.5v5M1159.3 367.5h5M1161.8 365v5M1161.7 374.4h5M1164.2 371.9v5M1163.2 378.1h5M1165.7 375.6v5M1163.5 381.4h5M1166 378.9v5M737.6 185h5M740.1 182.5v5M738.1 186.7h5M740.6 184.2v5M739.4 190.2h5M741.9 187.7v5M739.3 189.6h5M741.8 187.1v5M740 193.2h5M742.5 190.7v5M740.2 194h5M742.7 191.5v5M740.9 194.6h5M743.4 192.1v5M741.2 195.8h5M743.7 193.3v5M741.7 200.5h5M744.2 198v5M741.6 201.3h5M744.1 198.8v5M743 203.2h5M745.5 200.7v5M743.1 203.8h5M745.6 201.3v5M744.7 208.5h5M747.2 206v5M744.8 209.4h5M747.3 206.9v5M745.6 208.5h5M748.1 206v5M746 210.8h5M748.5 208.3v5M747 210.8h5M749.5 208.3v5M747.2 209.2h5M749.7 206.7v5M747.4 208.3h5M749.9 205.8v5M746.7 206.6h5M749.2 204.1v5M748.3 204.9h5M750.8 202.4v5M748.8 202.6h5M751.3 200.1v5M749.2 201.5h5M751.7 199v5M749.3 198.7h5M751.8 196.2v5M749.5 196.2h5M752 193.7v5M750.6 193.6h5M753.1 191.1v5M750.8 195.1h5M753.3 192.6v5M751.3 191.7h5M753.8 189.2v5M752.3 187.5h5M754.8 185v5M751.3 186.9h5M753.8 184.4v5M751.8 185.5h5M754.3 183v5M753.6 185.8h5M756.1 183.3v5M779.8 261.3h5M782.3 258.8v5M780.8 263.4h5M783.3 260.9v5M780.6 266.2h5M783.1 263.7v5M782.6 265.3h5M785.1 262.8v5M783.1 267.2h5M785.6 264.7v5M783.2 268.5h5M785.7 266v5M784.8 272h5M787.3 269.5v5M785.3 274.9h5M787.8 272.4v5M785.5 274.4h5M788 271.9v5M785.9 278.2h5M788.4 275.7v5M786.3 277.3h5M788.8 274.8v5M787.1 278h5M789.6 275.5v5M788.6 283.1h5M791.1 280.6v5M788.9 284.1h5M791.4 281.6v5M789.2 286.1h5M791.7 283.6v5" stroke="#ff1010" stroke-width="1.15" fill="none"/>
<path d="M120.2 408.3v-4.5M120.2 62.4v4.5M180.4 408.3v-4.5M180.4 62.4v4.5M240.7 408.3v-4.5M240.7 62.4v4.5M300.9 408.3v-4.5M300.9 62.4v4.5M361.1 408.3v-4.5M361.1 62.4v4.5M421.3 408.3v-4.5M421.3 62.4v4.5M481.6 408.3v-4.5M481.6 62.4v4.5M541.8 408.3v-4.5M541.8 62.4v4.5M60 358.9h4.5M602 358.9h-4.5M60 309.5h4.5M602 309.5h-4.5M60 260.1h4.5M602 260.1h-4.5M60 210.6h4.5M602 210.6h-4.5M60 161.2h4.5M602 161.2h-4.5M60 111.8h4.5M602 111.8h-4.5" stroke="#444" stroke-width="1.3" fill="none"/>
<path d="M781.4 407.2v-4.5M781.4 65v4.5M847.8 407.2v-4.5M847.8 65v4.5M914.2 407.2v-4.5M914.2 65v4.5M980.6 407.2v-4.5M980.6 65v4.5M1047 407.2v-4.5M1047 65v4.5M1113.4 407.2v-4.5M1113.4 65v4.5M1179.8 407.2v-4.5M1179.8 65v4.5M715 358.3h4.5M1246.2 358.3h-4.5M715 309.4h4.5M1246.2 309.4h-4.5M715 260.5h4.5M1246.2 260.5h-4.5M715 211.7h4.5M1246.2 211.7h-4.5M715 162.8h4.5M1246.2 162.8h-4.5M715 113.9h4.5M1246.2 113.9h-4.5" stroke="#444" stroke-width="1.3" fill="none"/>
<g stroke-width="1.5" stroke-linecap="square">
<path d="M60 62.4H602M60 408.3H602M715 65H1246.2M715 407.2H1246.2" stroke="#2e2e2e"/>
<path d="M60 62.4V408.3M602 62.4V408.3M715 65V407.2M1246.2 65V407.2" stroke="#505050"/>
</g>
<line x1="715" y1="407.5" x2="1187.5" y2="407.5" stroke="#08089c" stroke-width="3"/>
<g stroke="#1d58bb" stroke-width="2.8" stroke-linecap="round">
<line x1="838.3" y1="191.2" x2="1227.3" y2="315.5"/>
<line x1="818" y1="304.5" x2="1218.4" y2="413.2"/>
</g>
</svg>
</body></html>
